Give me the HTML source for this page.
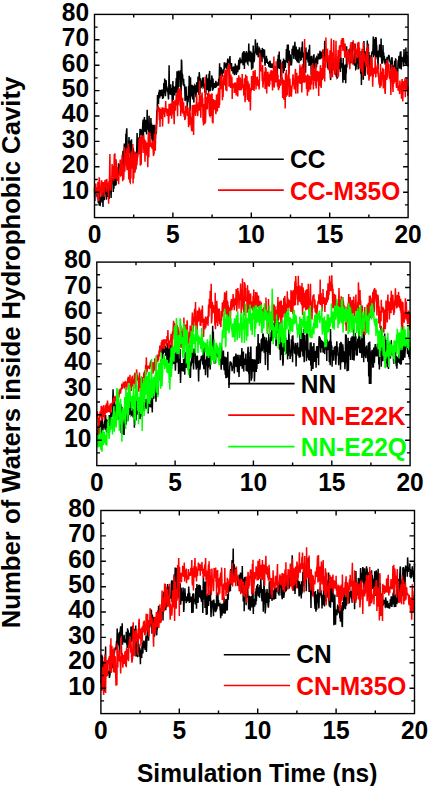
<!DOCTYPE html><html><head><meta charset="utf-8"><style>html,body{margin:0;padding:0;background:#fff;width:429px;height:786px;overflow:hidden}svg{display:block}text{font-family:"Liberation Sans",sans-serif;font-weight:bold}</style></head><body>
<svg width="429" height="786" viewBox="0 0 429 786">
<g fill="none" stroke-width="1.5" stroke-linejoin="miter">
<polyline stroke="#000" points="94.5,189.1 94.8,201.1 95.1,190.5 95.4,190.0 95.8,191.1 96.1,190.1 96.4,192.8 96.7,190.6 97.0,195.5 97.3,195.1 97.6,195.8 97.9,191.5 98.3,203.2 98.6,198.3 98.9,195.8 99.2,205.5 99.5,190.8 99.8,196.7 100.1,206.1 100.5,198.4 100.8,201.6 101.1,202.4 101.4,196.8 101.7,199.4 102.0,190.9 102.3,200.3 102.7,197.9 103.0,207.0 103.3,193.6 103.6,195.1 103.9,188.5 104.2,200.3 104.5,195.5 104.8,187.1 105.2,190.6 105.5,194.0 105.8,187.9 106.1,183.5 106.4,199.7 106.7,194.3 107.0,191.3 107.4,197.1 107.7,187.5 108.0,191.5 108.3,188.8 108.6,188.0 108.9,191.3 109.2,198.9 109.6,187.6 109.9,185.4 110.2,181.9 110.5,182.0 110.8,182.7 111.1,197.9 111.4,183.9 111.7,181.7 112.1,178.1 112.4,182.8 112.7,180.1 113.0,178.8 113.3,191.9 113.6,178.8 113.9,188.6 114.3,178.7 114.6,185.4 114.9,178.8 115.2,180.0 115.5,185.6 115.8,184.8 116.1,184.3 116.5,169.4 116.8,176.3 117.1,176.6 117.4,171.6 117.7,180.8 118.0,173.3 118.3,173.1 118.6,163.3 119.0,167.4 119.3,167.6 119.6,168.0 119.9,166.2 120.2,164.3 120.5,165.6 120.8,166.4 121.2,165.2 121.5,164.7 121.8,161.9 122.1,169.1 122.4,159.3 122.7,162.4 123.0,150.8 123.4,164.6 123.7,157.5 124.0,155.4 124.3,143.4 124.6,165.9 124.9,164.8 125.2,148.5 125.5,154.0 125.9,133.8 126.2,142.0 126.5,131.2 126.8,128.3 127.1,146.6 127.4,149.1 127.7,151.8 128.1,153.1 128.4,148.1 128.7,145.2 129.0,137.1 129.3,147.3 129.6,153.1 129.9,140.5 130.3,152.3 130.6,144.6 130.9,161.8 131.2,146.4 131.5,139.2 131.8,163.6 132.1,151.4 132.4,161.9 132.8,155.6 133.1,147.8 133.4,150.5 133.7,154.1 134.0,163.2 134.3,157.9 134.6,154.8 135.0,157.5 135.3,152.4 135.6,169.7 135.9,165.4 136.2,155.3 136.5,159.3 136.8,147.5 137.1,133.0 137.5,157.3 137.8,147.3 138.1,141.0 138.4,146.7 138.7,138.8 139.0,137.5 139.3,147.3 139.7,138.9 140.0,128.9 140.3,129.8 140.6,131.2 140.9,129.2 141.2,135.0 141.5,133.2 141.9,136.1 142.2,132.6 142.5,130.0 142.8,123.2 143.1,119.5 143.4,137.0 143.7,127.8 144.0,126.6 144.4,117.1 144.7,129.1 145.0,129.5 145.3,131.9 145.6,126.7 145.9,119.7 146.2,125.6 146.6,134.4 146.9,126.3 147.2,109.7 147.5,124.4 147.8,122.3 148.1,129.6 148.4,122.3 148.8,131.9 149.1,115.7 149.4,138.6 149.7,124.8 150.0,130.5 150.3,135.8 150.6,132.6 150.9,118.1 151.3,130.8 151.6,123.4 151.9,139.4 152.2,127.5 152.5,148.4 152.8,125.0 153.1,141.2 153.5,128.1 153.8,128.2 154.1,124.8 154.4,127.9 154.7,135.1 155.0,126.8 155.3,138.6 155.7,128.9 156.0,130.4 156.3,133.7 156.6,117.7 156.9,110.2 157.2,111.9 157.5,94.9 157.8,96.8 158.2,95.0 158.5,104.3 158.8,92.3 159.1,96.9 159.4,89.8 159.7,98.2 160.0,93.5 160.4,93.4 160.7,90.0 161.0,94.9 161.3,96.1 161.6,89.6 161.9,94.8 162.2,89.5 162.6,98.9 162.9,91.1 163.2,98.2 163.5,95.4 163.8,83.0 164.1,87.4 164.4,90.6 164.7,78.4 165.1,92.8 165.4,96.3 165.7,92.2 166.0,80.1 166.3,83.0 166.6,90.5 166.9,86.7 167.3,89.3 167.6,92.2 167.9,90.0 168.2,95.9 168.5,99.5 168.8,87.2 169.1,65.2 169.5,94.5 169.8,85.8 170.1,88.7 170.4,91.3 170.7,84.3 171.0,95.1 171.3,90.1 171.6,89.6 172.0,92.8 172.3,103.1 172.6,90.9 172.9,80.9 173.2,100.0 173.5,86.1 173.8,88.1 174.2,89.3 174.5,92.7 174.8,95.4 175.1,89.4 175.4,86.7 175.7,92.8 176.0,83.8 176.3,78.0 176.7,89.6 177.0,71.2 177.3,95.4 177.6,86.9 177.9,79.6 178.2,90.0 178.5,70.6 178.9,75.3 179.2,74.7 179.5,71.6 179.8,72.3 180.1,87.0 180.4,70.3 180.7,82.5 181.1,96.4 181.4,59.6 181.7,61.4 182.0,75.9 182.3,74.0 182.6,75.2 182.9,81.7 183.2,85.2 183.6,78.8 183.9,85.6 184.2,85.6 184.5,85.4 184.8,90.3 185.1,101.1 185.4,93.0 185.8,88.5 186.1,86.6 186.4,99.6 186.7,97.6 187.0,98.7 187.3,108.6 187.6,95.8 188.0,102.3 188.3,98.8 188.6,86.0 188.9,98.1 189.2,75.7 189.5,89.1 189.8,92.1 190.1,110.6 190.5,77.3 190.8,92.9 191.1,92.5 191.4,96.5 191.7,89.8 192.0,84.8 192.3,96.5 192.7,99.5 193.0,97.1 193.3,85.4 193.6,95.2 193.9,102.6 194.2,86.3 194.5,93.2 194.9,85.6 195.2,86.1 195.5,87.3 195.8,94.9 196.1,97.3 196.4,88.2 196.7,82.3 197.0,90.7 197.4,88.1 197.7,92.5 198.0,76.6 198.3,84.5 198.6,81.8 198.9,95.1 199.2,72.2 199.6,76.1 199.9,94.2 200.2,84.6 200.5,78.2 200.8,84.8 201.1,86.4 201.4,86.6 201.8,87.2 202.1,80.5 202.4,85.6 202.7,77.5 203.0,86.4 203.3,77.4 203.6,82.6 203.9,87.1 204.3,88.6 204.6,83.6 204.9,93.0 205.2,84.2 205.5,84.8 205.8,94.9 206.1,88.2 206.5,74.4 206.8,86.2 207.1,89.9 207.4,83.6 207.7,78.3 208.0,86.5 208.3,89.4 208.7,91.8 209.0,73.7 209.3,79.5 209.6,70.9 209.9,83.0 210.2,91.2 210.5,81.7 210.8,81.2 211.2,85.3 211.5,87.1 211.8,75.4 212.1,78.3 212.4,90.6 212.7,89.9 213.0,78.5 213.4,89.2 213.7,83.3 214.0,83.5 214.3,86.5 214.6,83.0 214.9,87.6 215.2,83.3 215.5,88.0 215.9,80.7 216.2,86.9 216.5,84.4 216.8,85.2 217.1,83.9 217.4,83.1 217.7,83.3 218.1,83.0 218.4,85.8 218.7,78.7 219.0,83.0 219.3,76.3 219.6,63.2 219.9,85.4 220.3,66.9 220.6,79.5 220.9,85.4 221.2,67.5 221.5,70.7 221.8,68.7 222.1,76.6 222.4,74.2 222.8,70.3 223.1,73.4 223.4,71.9 223.7,69.4 224.0,70.8 224.3,62.4 224.6,68.8 225.0,66.0 225.3,66.3 225.6,65.0 225.9,64.0 226.2,64.6 226.5,66.0 226.8,69.2 227.2,64.5 227.5,61.2 227.8,58.5 228.1,62.6 228.4,64.9 228.7,59.8 229.0,65.4 229.3,63.8 229.7,58.9 230.0,56.0 230.3,67.1 230.6,63.6 230.9,69.0 231.2,66.9 231.5,63.0 231.9,71.2 232.2,67.7 232.5,67.9 232.8,67.7 233.1,73.7 233.4,68.9 233.7,71.2 234.1,66.3 234.4,75.1 234.7,69.8 235.0,72.4 235.3,63.6 235.6,71.7 235.9,69.3 236.2,74.7 236.6,73.1 236.9,65.5 237.2,69.1 237.5,68.1 237.8,72.1 238.1,67.4 238.4,66.0 238.8,59.9 239.1,69.5 239.4,68.8 239.7,61.8 240.0,57.5 240.3,63.2 240.6,62.0 241.0,59.5 241.3,61.1 241.6,61.5 241.9,63.0 242.2,57.8 242.5,53.7 242.8,52.7 243.1,65.2 243.5,51.4 243.8,52.1 244.1,51.2 244.4,68.9 244.7,54.6 245.0,52.8 245.3,56.6 245.7,62.5 246.0,59.7 246.3,51.3 246.6,52.5 246.9,57.1 247.2,58.7 247.5,63.6 247.9,64.2 248.2,52.6 248.5,53.7 248.8,43.6 249.1,61.1 249.4,52.2 249.7,50.9 250.0,58.1 250.4,62.1 250.7,51.4 251.0,58.4 251.3,58.3 251.6,69.8 251.9,58.3 252.2,54.8 252.6,55.6 252.9,68.4 253.2,45.6 253.5,55.9 253.8,62.4 254.1,61.1 254.4,60.2 254.7,53.0 255.1,50.9 255.4,39.3 255.7,52.0 256.0,53.2 256.3,51.7 256.6,48.9 256.9,55.2 257.3,42.7 257.6,50.4 257.9,45.9 258.2,57.3 258.5,54.7 258.8,53.8 259.1,51.0 259.5,48.6 259.8,49.2 260.1,59.6 260.4,57.8 260.7,50.0 261.0,56.4 261.3,53.0 261.6,60.9 262.0,61.2 262.3,47.9 262.6,51.8 262.9,56.9 263.2,49.0 263.5,55.1 263.8,54.4 264.2,59.0 264.5,49.4 264.8,62.6 265.1,65.6 265.4,58.7 265.7,60.6 266.0,62.4 266.4,55.9 266.7,63.0 267.0,58.5 267.3,61.7 267.6,62.7 267.9,63.7 268.2,62.0 268.5,63.4 268.9,66.2 269.2,66.4 269.5,62.8 269.8,61.6 270.1,60.9 270.4,67.8 270.7,65.4 271.1,67.9 271.4,64.6 271.7,66.9 272.0,64.0 272.3,64.1 272.6,67.4 272.9,67.3 273.3,67.2 273.6,66.7 273.9,69.1 274.2,66.5 274.5,76.7 274.8,67.6 275.1,70.3 275.4,66.2 275.8,71.7 276.1,66.2 276.4,76.3 276.7,77.2 277.0,72.1 277.3,78.3 277.6,59.0 278.0,63.4 278.3,54.7 278.6,58.8 278.9,68.0 279.2,51.5 279.5,69.0 279.8,59.7 280.2,66.4 280.5,59.4 280.8,76.1 281.1,79.5 281.4,71.8 281.7,64.3 282.0,68.4 282.3,64.8 282.7,62.1 283.0,61.4 283.3,73.2 283.6,58.6 283.9,67.4 284.2,71.1 284.5,60.1 284.9,67.1 285.2,68.0 285.5,64.3 285.8,60.8 286.1,62.5 286.4,49.1 286.7,56.3 287.1,50.8 287.4,44.5 287.7,62.9 288.0,56.9 288.3,44.5 288.6,66.4 288.9,73.8 289.2,50.5 289.6,65.2 289.9,64.7 290.2,54.3 290.5,60.1 290.8,56.7 291.1,59.6 291.4,65.5 291.8,60.9 292.1,48.8 292.4,54.8 292.7,52.2 293.0,47.5 293.3,45.6 293.6,54.2 293.9,59.0 294.3,50.1 294.6,47.6 294.9,41.7 295.2,52.1 295.5,52.5 295.8,59.7 296.1,46.5 296.5,53.7 296.8,60.9 297.1,50.1 297.4,62.6 297.7,49.6 298.0,54.8 298.3,56.7 298.7,50.0 299.0,63.3 299.3,47.2 299.6,50.2 299.9,56.4 300.2,52.1 300.5,55.5 300.8,59.8 301.2,59.5 301.5,47.3 301.8,49.1 302.1,50.8 302.4,41.5 302.7,56.5 303.0,57.7 303.4,54.6 303.7,70.2 304.0,52.5 304.3,59.0 304.6,52.4 304.9,50.4 305.2,65.6 305.6,72.7 305.9,47.4 306.2,59.5 306.5,58.7 306.8,58.6 307.1,52.4 307.4,54.2 307.7,54.9 308.1,62.5 308.4,54.5 308.7,49.6 309.0,66.0 309.3,58.8 309.6,44.7 309.9,63.5 310.3,56.3 310.6,65.5 310.9,56.2 311.2,75.5 311.5,61.8 311.8,55.7 312.1,66.4 312.5,71.0 312.8,62.0 313.1,62.5 313.4,59.7 313.7,55.8 314.0,54.3 314.3,72.1 314.6,64.4 315.0,64.2 315.3,60.2 315.6,61.7 315.9,57.6 316.2,66.2 316.5,67.5 316.8,57.4 317.2,58.0 317.5,64.1 317.8,59.2 318.1,55.5 318.4,56.0 318.7,53.5 319.0,56.9 319.4,59.4 319.7,55.1 320.0,50.8 320.3,53.2 320.6,59.3 320.9,55.7 321.2,51.7 321.5,53.9 321.9,58.1 322.2,54.5 322.5,52.8 322.8,50.3 323.1,56.7 323.4,49.7 323.7,54.0 324.1,50.8 324.4,61.3 324.7,40.8 325.0,48.3 325.3,45.9 325.6,53.4 325.9,53.7 326.3,60.5 326.6,49.2 326.9,53.6 327.2,61.2 327.5,67.3 327.8,68.1 328.1,63.0 328.4,69.7 328.8,62.2 329.1,62.9 329.4,55.4 329.7,69.4 330.0,73.6 330.3,57.1 330.6,80.1 331.0,72.1 331.3,73.0 331.6,65.0 331.9,54.1 332.2,59.6 332.5,70.8 332.8,56.0 333.1,61.6 333.5,65.6 333.8,58.6 334.1,64.9 334.4,70.5 334.7,60.3 335.0,69.9 335.3,73.6 335.7,72.6 336.0,74.8 336.3,75.8 336.6,77.3 336.9,61.7 337.2,77.9 337.5,77.6 337.9,73.7 338.2,56.2 338.5,62.0 338.8,67.1 339.1,68.2 339.4,67.8 339.7,61.7 340.0,58.8 340.4,72.1 340.7,57.5 341.0,58.2 341.3,65.7 341.6,67.2 341.9,63.1 342.2,67.8 342.6,68.3 342.9,82.7 343.2,57.9 343.5,72.9 343.8,77.9 344.1,79.9 344.4,67.3 344.8,66.7 345.1,64.5 345.4,74.1 345.7,83.3 346.0,70.3 346.3,73.6 346.6,46.3 346.9,67.5 347.3,56.5 347.6,55.5 347.9,60.3 348.2,59.3 348.5,54.8 348.8,50.6 349.1,51.3 349.5,64.3 349.8,51.2 350.1,48.2 350.4,58.7 350.7,55.5 351.0,63.4 351.3,49.3 351.7,60.4 352.0,50.8 352.3,42.0 352.6,52.8 352.9,55.2 353.2,64.3 353.5,61.7 353.8,64.0 354.2,59.7 354.5,65.8 354.8,62.5 355.1,44.0 355.4,49.6 355.7,69.1 356.0,68.8 356.4,62.5 356.7,56.7 357.0,63.0 357.3,60.6 357.6,58.2 357.9,62.1 358.2,69.4 358.6,49.3 358.9,56.8 359.2,59.5 359.5,64.9 359.8,57.8 360.1,57.7 360.4,56.3 360.7,73.8 361.1,51.1 361.4,85.1 361.7,66.1 362.0,54.9 362.3,68.7 362.6,73.9 362.9,58.2 363.3,79.8 363.6,66.9 363.9,40.9 364.2,53.9 364.5,51.0 364.8,71.9 365.1,76.0 365.5,55.1 365.8,61.8 366.1,51.2 366.4,54.9 366.7,64.5 367.0,66.6 367.3,40.6 367.6,73.2 368.0,56.2 368.3,43.8 368.6,67.3 368.9,52.1 369.2,62.7 369.5,58.5 369.8,54.9 370.2,74.6 370.5,73.3 370.8,69.8 371.1,65.4 371.4,62.6 371.7,53.6 372.0,52.1 372.3,51.7 372.7,54.2 373.0,48.3 373.3,36.5 373.6,57.2 373.9,44.1 374.2,44.0 374.5,39.0 374.9,42.8 375.2,55.6 375.5,37.0 375.8,59.3 376.1,37.3 376.4,44.8 376.7,46.1 377.1,57.0 377.4,51.8 377.7,52.4 378.0,69.6 378.3,55.3 378.6,51.4 378.9,50.8 379.2,53.3 379.6,44.4 379.9,57.3 380.2,53.5 380.5,56.3 380.8,56.0 381.1,38.5 381.4,54.4 381.8,63.6 382.1,50.5 382.4,63.7 382.7,61.2 383.0,45.0 383.3,58.8 383.6,52.2 384.0,60.4 384.3,55.9 384.6,61.8 384.9,61.7 385.2,64.7 385.5,58.8 385.8,63.2 386.1,61.6 386.5,60.3 386.8,60.4 387.1,56.7 387.4,66.3 387.7,63.6 388.0,58.1 388.3,59.1 388.7,54.9 389.0,57.6 389.3,57.1 389.6,58.5 389.9,61.2 390.2,61.0 390.5,63.2 390.9,67.8 391.2,71.6 391.5,71.6 391.8,57.2 392.1,58.2 392.4,65.3 392.7,76.0 393.0,71.1 393.4,65.3 393.7,75.8 394.0,72.2 394.3,73.7 394.6,60.7 394.9,66.2 395.2,73.5 395.6,59.2 395.9,59.4 396.2,74.3 396.5,67.9 396.8,70.2 397.1,72.1 397.4,77.9 397.8,70.1 398.1,60.3 398.4,62.3 398.7,60.4 399.0,55.7 399.3,63.1 399.6,68.6 399.9,59.1 400.3,51.7 400.6,66.6 400.9,51.3 401.2,69.6 401.5,60.5 401.8,59.7 402.1,56.7 402.5,61.1 402.8,61.2 403.1,58.9 403.4,66.4 403.7,61.5 404.0,49.1 404.3,57.1 404.7,61.2 405.0,62.7 405.3,61.1 405.6,63.8 405.9,47.5 406.2,64.9 406.5,54.9 406.8,54.5 407.2,62.5 407.5,55.1 407.8,60.0 408.1,66.8"/>
<polyline stroke="#f00" points="94.5,186.6 94.8,192.4 95.1,190.3 95.4,192.7 95.8,183.5 96.1,193.5 96.4,191.9 96.7,190.4 97.0,187.4 97.3,192.2 97.6,199.1 97.9,181.7 98.3,197.8 98.6,200.2 98.9,200.1 99.2,177.2 99.5,180.3 99.8,184.1 100.1,189.7 100.5,191.7 100.8,186.7 101.1,195.7 101.4,189.2 101.7,180.2 102.0,196.4 102.3,182.6 102.7,191.5 103.0,191.5 103.3,182.1 103.6,192.5 103.9,191.2 104.2,196.7 104.5,188.5 104.8,182.1 105.2,179.9 105.5,184.6 105.8,185.6 106.1,185.6 106.4,192.1 106.7,178.9 107.0,181.3 107.4,189.8 107.7,184.8 108.0,183.1 108.3,188.4 108.6,203.7 108.9,180.9 109.2,185.3 109.6,173.4 109.9,154.1 110.2,182.2 110.5,188.6 110.8,190.8 111.1,186.4 111.4,179.0 111.7,183.5 112.1,164.1 112.4,177.1 112.7,166.4 113.0,166.5 113.3,173.3 113.6,180.7 113.9,175.7 114.3,154.0 114.6,156.6 114.9,153.4 115.2,179.0 115.5,177.2 115.8,168.5 116.1,159.3 116.5,166.3 116.8,175.4 117.1,180.6 117.4,167.0 117.7,179.2 118.0,177.4 118.3,173.9 118.6,184.2 119.0,175.5 119.3,175.0 119.6,169.8 119.9,172.1 120.2,159.6 120.5,169.4 120.8,175.5 121.2,175.0 121.5,161.2 121.8,166.7 122.1,154.7 122.4,173.3 122.7,181.2 123.0,165.1 123.4,164.8 123.7,179.6 124.0,171.7 124.3,146.9 124.6,164.8 124.9,171.6 125.2,154.8 125.5,160.2 125.9,153.3 126.2,158.4 126.5,148.5 126.8,167.0 127.1,170.2 127.4,159.3 127.7,167.5 128.1,144.1 128.4,144.2 128.7,179.6 129.0,146.5 129.3,176.6 129.6,164.1 129.9,182.0 130.3,182.6 130.6,157.4 130.9,178.5 131.2,151.4 131.5,168.8 131.8,155.9 132.1,161.2 132.4,157.5 132.8,143.9 133.1,183.4 133.4,161.0 133.7,178.7 134.0,168.9 134.3,164.5 134.6,151.3 135.0,172.6 135.3,168.8 135.6,166.0 135.9,169.0 136.2,153.3 136.5,159.9 136.8,165.4 137.1,161.4 137.5,157.1 137.8,154.1 138.1,152.5 138.4,152.2 138.7,154.1 139.0,140.4 139.3,137.9 139.7,153.6 140.0,149.2 140.3,165.6 140.6,162.1 140.9,137.0 141.2,164.7 141.5,135.1 141.9,136.9 142.2,137.3 142.5,141.5 142.8,136.0 143.1,153.1 143.4,140.2 143.7,135.2 144.0,139.9 144.4,139.0 144.7,147.6 145.0,161.8 145.3,146.8 145.6,140.4 145.9,153.7 146.2,146.0 146.6,147.2 146.9,155.6 147.2,142.6 147.5,152.0 147.8,167.2 148.1,147.2 148.4,132.2 148.8,157.3 149.1,145.6 149.4,142.0 149.7,140.6 150.0,132.5 150.3,146.9 150.6,144.2 150.9,144.1 151.3,146.8 151.6,143.1 151.9,147.6 152.2,147.9 152.5,140.6 152.8,144.7 153.1,149.4 153.5,156.1 153.8,142.2 154.1,154.5 154.4,133.8 154.7,134.6 155.0,133.4 155.3,150.8 155.7,132.1 156.0,124.5 156.3,132.5 156.6,124.9 156.9,124.3 157.2,110.8 157.5,110.7 157.8,109.4 158.2,105.5 158.5,111.5 158.8,110.1 159.1,111.8 159.4,120.2 159.7,107.5 160.0,127.0 160.4,110.8 160.7,108.9 161.0,119.0 161.3,113.4 161.6,110.2 161.9,108.8 162.2,107.3 162.6,126.4 162.9,113.3 163.2,107.7 163.5,108.4 163.8,111.1 164.1,114.1 164.4,109.2 164.7,117.3 165.1,107.7 165.4,112.4 165.7,101.0 166.0,111.5 166.3,108.2 166.6,109.0 166.9,113.0 167.3,115.9 167.6,114.3 167.9,112.9 168.2,108.9 168.5,123.7 168.8,122.4 169.1,103.8 169.5,112.7 169.8,105.6 170.1,115.7 170.4,108.4 170.7,103.6 171.0,107.7 171.3,103.2 171.6,118.7 172.0,113.6 172.3,102.6 172.6,114.3 172.9,101.6 173.2,101.5 173.5,111.8 173.8,113.4 174.2,124.2 174.5,107.0 174.8,100.3 175.1,101.7 175.4,110.8 175.7,102.4 176.0,100.6 176.3,94.7 176.7,105.4 177.0,93.5 177.3,101.3 177.6,116.2 177.9,90.3 178.2,105.1 178.5,88.4 178.9,88.7 179.2,100.5 179.5,89.6 179.8,99.5 180.1,106.1 180.4,88.4 180.7,116.0 181.1,91.1 181.4,101.2 181.7,112.3 182.0,111.7 182.3,106.0 182.6,97.8 182.9,113.7 183.2,109.2 183.6,102.3 183.9,113.1 184.2,116.9 184.5,112.4 184.8,120.1 185.1,111.1 185.4,119.3 185.8,105.8 186.1,107.5 186.4,107.6 186.7,113.6 187.0,105.8 187.3,116.0 187.6,109.2 188.0,107.5 188.3,117.6 188.6,127.3 188.9,117.3 189.2,120.8 189.5,125.2 189.8,108.1 190.1,112.9 190.5,121.7 190.8,116.8 191.1,124.6 191.4,127.5 191.7,131.3 192.0,121.8 192.3,105.2 192.7,107.9 193.0,131.5 193.3,105.8 193.6,135.0 193.9,105.9 194.2,106.1 194.5,114.0 194.9,104.6 195.2,107.0 195.5,116.0 195.8,112.5 196.1,108.6 196.4,102.5 196.7,94.6 197.0,112.2 197.4,105.4 197.7,116.3 198.0,110.4 198.3,105.7 198.6,102.4 198.9,109.3 199.2,110.6 199.6,80.8 199.9,107.0 200.2,96.3 200.5,101.5 200.8,117.7 201.1,103.6 201.4,94.5 201.8,101.6 202.1,92.4 202.4,107.2 202.7,97.7 203.0,120.5 203.3,122.0 203.6,125.4 203.9,108.6 204.3,104.0 204.6,106.3 204.9,124.0 205.2,76.8 205.5,122.5 205.8,112.7 206.1,99.0 206.5,96.7 206.8,103.6 207.1,102.0 207.4,109.4 207.7,93.1 208.0,95.4 208.3,102.6 208.7,92.0 209.0,95.8 209.3,112.1 209.6,115.3 209.9,115.8 210.2,94.2 210.5,105.5 210.8,116.1 211.2,95.6 211.5,102.7 211.8,93.5 212.1,94.7 212.4,122.6 212.7,99.6 213.0,123.6 213.4,99.0 213.7,109.9 214.0,108.3 214.3,100.1 214.6,107.0 214.9,100.2 215.2,105.0 215.5,109.8 215.9,114.1 216.2,107.7 216.5,94.5 216.8,107.6 217.1,98.6 217.4,111.6 217.7,93.6 218.1,104.4 218.4,91.0 218.7,87.8 219.0,108.1 219.3,91.8 219.6,104.9 219.9,91.3 220.3,75.5 220.6,85.4 220.9,89.3 221.2,83.1 221.5,76.5 221.8,74.2 222.1,83.4 222.4,100.3 222.8,87.6 223.1,97.0 223.4,82.9 223.7,80.3 224.0,75.1 224.3,77.2 224.6,85.4 225.0,69.8 225.3,84.8 225.6,79.9 225.9,90.4 226.2,80.9 226.5,69.7 226.8,91.2 227.2,69.4 227.5,69.5 227.8,70.7 228.1,68.3 228.4,70.4 228.7,62.7 229.0,86.8 229.3,72.6 229.7,64.5 230.0,86.4 230.3,75.8 230.6,87.9 230.9,74.5 231.2,86.6 231.5,80.0 231.9,76.7 232.2,99.1 232.5,83.3 232.8,87.8 233.1,85.3 233.4,84.0 233.7,87.5 234.1,83.2 234.4,92.9 234.7,82.5 235.0,92.7 235.3,86.8 235.6,83.3 235.9,83.5 236.2,95.4 236.6,88.4 236.9,93.9 237.2,77.9 237.5,84.0 237.8,96.4 238.1,77.7 238.4,83.9 238.8,75.3 239.1,82.7 239.4,90.3 239.7,87.7 240.0,88.2 240.3,77.4 240.6,89.4 241.0,79.2 241.3,90.3 241.6,84.0 241.9,88.5 242.2,74.0 242.5,86.1 242.8,85.4 243.1,84.3 243.5,88.1 243.8,93.9 244.1,93.3 244.4,78.2 244.7,87.9 245.0,102.3 245.3,99.1 245.7,74.6 246.0,87.3 246.3,87.3 246.6,89.4 246.9,76.1 247.2,95.6 247.5,100.0 247.9,80.9 248.2,86.1 248.5,88.1 248.8,101.8 249.1,83.6 249.4,90.5 249.7,97.7 250.0,87.8 250.4,110.4 250.7,93.8 251.0,90.7 251.3,90.4 251.6,76.1 251.9,85.6 252.2,83.9 252.6,89.9 252.9,82.2 253.2,70.7 253.5,82.5 253.8,78.0 254.1,91.1 254.4,81.4 254.7,72.8 255.1,70.0 255.4,82.1 255.7,78.4 256.0,89.5 256.3,78.1 256.6,78.3 256.9,79.9 257.3,76.5 257.6,85.8 257.9,82.3 258.2,81.7 258.5,86.7 258.8,82.7 259.1,89.5 259.5,79.0 259.8,52.7 260.1,67.1 260.4,69.7 260.7,56.5 261.0,71.4 261.3,68.2 261.6,68.1 262.0,70.5 262.3,81.3 262.6,65.0 262.9,87.6 263.2,83.9 263.5,80.2 263.8,81.4 264.2,79.4 264.5,73.0 264.8,73.4 265.1,89.1 265.4,66.9 265.7,77.9 266.0,68.3 266.4,79.1 266.7,93.4 267.0,72.5 267.3,72.5 267.6,74.8 267.9,71.8 268.2,86.1 268.5,79.0 268.9,85.9 269.2,86.0 269.5,74.0 269.8,84.9 270.1,74.9 270.4,71.7 270.7,80.7 271.1,70.0 271.4,78.5 271.7,70.8 272.0,77.3 272.3,85.0 272.6,90.4 272.9,70.6 273.3,80.3 273.6,69.9 273.9,56.5 274.2,87.6 274.5,83.0 274.8,66.8 275.1,72.8 275.4,70.6 275.8,82.6 276.1,61.2 276.4,72.1 276.7,81.8 277.0,69.3 277.3,81.7 277.6,86.7 278.0,74.8 278.3,87.9 278.6,90.2 278.9,81.9 279.2,88.1 279.5,80.7 279.8,79.3 280.2,85.9 280.5,81.4 280.8,80.9 281.1,81.1 281.4,73.6 281.7,62.6 282.0,85.0 282.3,77.6 282.7,98.0 283.0,88.2 283.3,79.4 283.6,90.2 283.9,99.8 284.2,80.3 284.5,93.1 284.9,90.5 285.2,108.4 285.5,72.7 285.8,78.4 286.1,97.0 286.4,69.7 286.7,90.9 287.1,84.1 287.4,95.6 287.7,78.7 288.0,77.2 288.3,74.5 288.6,86.4 288.9,61.1 289.2,96.9 289.6,87.2 289.9,78.5 290.2,87.3 290.5,96.1 290.8,85.8 291.1,94.6 291.4,96.6 291.8,89.0 292.1,85.8 292.4,85.5 292.7,79.3 293.0,74.2 293.3,79.0 293.6,82.1 293.9,82.5 294.3,89.4 294.6,81.5 294.9,80.1 295.2,72.3 295.5,68.9 295.8,93.7 296.1,79.8 296.5,79.7 296.8,72.8 297.1,85.4 297.4,76.5 297.7,93.5 298.0,83.9 298.3,81.1 298.7,75.5 299.0,83.2 299.3,76.4 299.6,75.7 299.9,64.5 300.2,83.9 300.5,81.2 300.8,72.0 301.2,78.7 301.5,66.6 301.8,92.6 302.1,81.4 302.4,64.2 302.7,82.6 303.0,81.8 303.4,69.2 303.7,76.5 304.0,68.4 304.3,82.7 304.6,39.0 304.9,75.4 305.2,80.9 305.6,80.3 305.9,77.2 306.2,75.4 306.5,88.9 306.8,86.7 307.1,82.6 307.4,95.8 307.7,74.2 308.1,80.5 308.4,87.4 308.7,91.6 309.0,86.7 309.3,75.6 309.6,89.2 309.9,83.5 310.3,78.9 310.6,89.7 310.9,76.1 311.2,81.3 311.5,84.7 311.8,64.7 312.1,80.1 312.5,71.4 312.8,63.2 313.1,73.4 313.4,89.6 313.7,72.9 314.0,71.9 314.3,75.4 314.6,67.9 315.0,80.9 315.3,79.3 315.6,85.8 315.9,63.0 316.2,88.4 316.5,81.3 316.8,80.1 317.2,81.0 317.5,70.9 317.8,74.6 318.1,81.5 318.4,73.0 318.7,96.1 319.0,71.4 319.4,74.7 319.7,71.7 320.0,86.1 320.3,66.4 320.6,65.3 320.9,86.3 321.2,87.9 321.5,78.5 321.9,67.9 322.2,79.9 322.5,77.2 322.8,67.9 323.1,49.2 323.4,73.0 323.7,63.3 324.1,79.0 324.4,63.0 324.7,81.6 325.0,56.0 325.3,67.6 325.6,61.0 325.9,37.6 326.3,60.2 326.6,62.3 326.9,54.4 327.2,50.4 327.5,50.0 327.8,60.0 328.1,59.2 328.4,65.5 328.8,70.3 329.1,62.2 329.4,55.3 329.7,59.9 330.0,50.2 330.3,78.0 330.6,77.1 331.0,51.8 331.3,38.4 331.6,58.0 331.9,63.9 332.2,52.2 332.5,77.3 332.8,60.6 333.1,59.6 333.5,59.1 333.8,39.9 334.1,54.4 334.4,68.9 334.7,74.8 335.0,68.1 335.3,73.4 335.7,61.4 336.0,40.7 336.3,64.1 336.6,69.5 336.9,62.3 337.2,61.2 337.5,77.4 337.9,61.8 338.2,50.0 338.5,76.4 338.8,51.4 339.1,62.6 339.4,46.9 339.7,45.4 340.0,47.5 340.4,45.2 340.7,58.1 341.0,48.6 341.3,39.9 341.6,47.0 341.9,44.3 342.2,38.1 342.6,43.8 342.9,50.9 343.2,38.2 343.5,40.2 343.8,43.7 344.1,49.7 344.4,49.9 344.8,57.7 345.1,43.5 345.4,51.1 345.7,51.6 346.0,57.8 346.3,50.9 346.6,54.0 346.9,54.4 347.3,63.5 347.6,64.6 347.9,60.6 348.2,49.0 348.5,54.0 348.8,57.3 349.1,62.2 349.5,57.0 349.8,69.3 350.1,60.4 350.4,44.4 350.7,57.4 351.0,41.9 351.3,57.3 351.7,59.9 352.0,62.3 352.3,53.0 352.6,64.6 352.9,51.4 353.2,40.3 353.5,50.9 353.8,43.4 354.2,50.6 354.5,47.0 354.8,43.3 355.1,55.1 355.4,63.2 355.7,48.7 356.0,50.3 356.4,51.7 356.7,52.4 357.0,52.6 357.3,58.3 357.6,42.4 357.9,53.6 358.2,48.6 358.6,57.5 358.9,41.8 359.2,54.3 359.5,47.8 359.8,67.6 360.1,68.4 360.4,62.4 360.7,55.2 361.1,58.4 361.4,71.8 361.7,63.3 362.0,48.8 362.3,69.1 362.6,56.7 362.9,76.2 363.3,42.5 363.6,59.8 363.9,55.2 364.2,60.8 364.5,53.3 364.8,62.1 365.1,61.5 365.5,61.2 365.8,63.8 366.1,67.3 366.4,57.3 366.7,47.7 367.0,64.5 367.3,65.4 367.6,74.8 368.0,44.6 368.3,74.3 368.6,64.6 368.9,80.6 369.2,77.8 369.5,75.5 369.8,67.1 370.2,76.4 370.5,59.5 370.8,58.6 371.1,72.8 371.4,75.6 371.7,56.8 372.0,59.4 372.3,69.4 372.7,86.8 373.0,75.1 373.3,75.3 373.6,67.8 373.9,73.3 374.2,69.6 374.5,70.4 374.9,73.8 375.2,57.0 375.5,70.9 375.8,77.4 376.1,70.5 376.4,68.1 376.7,73.4 377.1,67.1 377.4,67.3 377.7,63.9 378.0,66.6 378.3,76.9 378.6,72.8 378.9,81.7 379.2,84.8 379.6,76.8 379.9,87.9 380.2,85.4 380.5,63.7 380.8,75.8 381.1,86.5 381.4,79.3 381.8,71.9 382.1,72.8 382.4,79.5 382.7,67.8 383.0,79.8 383.3,88.4 383.6,69.1 384.0,78.9 384.3,79.2 384.6,74.9 384.9,91.0 385.2,94.0 385.5,82.8 385.8,63.5 386.1,65.8 386.5,67.3 386.8,80.1 387.1,60.1 387.4,77.6 387.7,70.5 388.0,63.6 388.3,65.3 388.7,65.1 389.0,64.3 389.3,75.8 389.6,79.1 389.9,76.1 390.2,71.4 390.5,80.1 390.9,94.9 391.2,69.8 391.5,81.9 391.8,64.4 392.1,71.0 392.4,75.2 392.7,85.0 393.0,91.9 393.4,74.7 393.7,66.8 394.0,83.8 394.3,66.9 394.6,80.1 394.9,81.9 395.2,80.3 395.6,79.8 395.9,68.7 396.2,84.2 396.5,87.9 396.8,83.5 397.1,74.4 397.4,71.2 397.8,77.6 398.1,90.7 398.4,85.6 398.7,88.6 399.0,86.9 399.3,86.7 399.6,94.1 399.9,80.6 400.3,86.5 400.6,89.3 400.9,87.2 401.2,90.1 401.5,98.8 401.8,82.7 402.1,79.0 402.5,94.3 402.8,101.4 403.1,87.8 403.4,83.7 403.7,81.2 404.0,87.2 404.3,89.3 404.7,82.9 405.0,78.2 405.3,97.3 405.6,88.1 405.9,87.3 406.2,79.5 406.5,89.6 406.8,77.9 407.2,90.1 407.5,85.9 407.8,95.9 408.1,86.5"/>
</g>
<rect x="94.5" y="14.4" width="313.6" height="203.2" fill="none" stroke="#000" stroke-width="1.4"/>
<path d="M133.7 217.6v-3.2M133.7 14.4v3.2M172.9 217.6v-5M172.9 14.4v5M212.1 217.6v-3.2M212.1 14.4v3.2M251.3 217.6v-5M251.3 14.4v5M290.5 217.6v-3.2M290.5 14.4v3.2M329.7 217.6v-5M329.7 14.4v5M368.9 217.6v-3.2M368.9 14.4v3.2M94.5 204.9h3.2M408.1 204.9h-3.2M94.5 192.2h5M408.1 192.2h-5M94.5 179.5h3.2M408.1 179.5h-3.2M94.5 166.8h5M408.1 166.8h-5M94.5 154.1h3.2M408.1 154.1h-3.2M94.5 141.4h5M408.1 141.4h-5M94.5 128.7h3.2M408.1 128.7h-3.2M94.5 116.0h5M408.1 116.0h-5M94.5 103.3h3.2M408.1 103.3h-3.2M94.5 90.6h5M408.1 90.6h-5M94.5 77.9h3.2M408.1 77.9h-3.2M94.5 65.2h5M408.1 65.2h-5M94.5 52.5h3.2M408.1 52.5h-3.2M94.5 39.8h5M408.1 39.8h-5M94.5 27.1h3.2M408.1 27.1h-3.2" stroke="#000" stroke-width="1.4" fill="none"/>
<text transform="translate(89.1 198.5) scale(1 1.06)" font-size="24.5" text-anchor="end">10</text>
<text transform="translate(89.1 173.1) scale(1 1.06)" font-size="24.5" text-anchor="end">20</text>
<text transform="translate(89.1 147.7) scale(1 1.06)" font-size="24.5" text-anchor="end">30</text>
<text transform="translate(89.1 122.3) scale(1 1.06)" font-size="24.5" text-anchor="end">40</text>
<text transform="translate(89.1 96.9) scale(1 1.06)" font-size="24.5" text-anchor="end">50</text>
<text transform="translate(89.1 71.5) scale(1 1.06)" font-size="24.5" text-anchor="end">60</text>
<text transform="translate(89.1 46.1) scale(1 1.06)" font-size="24.5" text-anchor="end">70</text>
<text transform="translate(89.1 20.7) scale(1 1.06)" font-size="24.5" text-anchor="end">80</text>
<text transform="translate(94.5 242.8) scale(1 1.06)" font-size="24.5" text-anchor="middle">0</text>
<text transform="translate(172.9 242.8) scale(1 1.06)" font-size="24.5" text-anchor="middle">5</text>
<text transform="translate(251.3 242.8) scale(1 1.06)" font-size="24.5" text-anchor="middle">10</text>
<text transform="translate(329.7 242.8) scale(1 1.06)" font-size="24.5" text-anchor="middle">15</text>
<text transform="translate(408.1 242.8) scale(1 1.06)" font-size="24.5" text-anchor="middle">20</text>
<line x1="218" x2="283.8" y1="159.3" y2="159.3" stroke="#000" stroke-width="1.6"/>
<text transform="translate(290.0 167.8) scale(1 1.06)" font-size="24.5" fill="#000">CC</text>
<line x1="218" x2="283.8" y1="190.1" y2="190.1" stroke="#f00" stroke-width="1.6"/>
<text transform="translate(290.0 199.9) scale(1 1.06)" font-size="24.5" fill="#f00">CC-M35O</text>
<g fill="none" stroke-width="1.5" stroke-linejoin="miter">
<polyline stroke="#000" points="96.8,433.5 97.1,441.6 97.4,442.4 97.7,437.3 98.1,425.2 98.4,431.4 98.7,428.2 99.0,427.3 99.3,424.1 99.6,421.3 99.9,434.4 100.2,421.7 100.6,421.3 100.9,433.2 101.2,432.8 101.5,434.2 101.8,428.4 102.1,417.2 102.4,424.3 102.8,430.7 103.1,427.9 103.4,424.4 103.7,427.4 104.0,426.7 104.3,423.6 104.6,420.3 104.9,427.5 105.3,429.6 105.6,415.0 105.9,424.2 106.2,419.0 106.5,432.3 106.8,428.3 107.1,425.4 107.5,419.7 107.8,430.5 108.1,425.1 108.4,433.1 108.7,431.1 109.0,428.5 109.3,415.1 109.6,421.7 110.0,426.1 110.3,417.4 110.6,421.8 110.9,412.0 111.2,414.9 111.5,412.1 111.8,416.9 112.2,412.0 112.5,413.4 112.8,398.3 113.1,389.3 113.4,408.3 113.7,401.7 114.0,403.5 114.3,398.5 114.7,403.8 115.0,416.1 115.3,404.4 115.6,420.1 115.9,411.4 116.2,416.1 116.5,408.8 116.9,416.0 117.2,416.2 117.5,403.8 117.8,404.6 118.1,419.5 118.4,417.9 118.7,402.5 119.0,413.3 119.4,416.2 119.7,416.4 120.0,419.4 120.3,418.1 120.6,417.3 120.9,404.3 121.2,433.3 121.6,417.8 121.9,406.7 122.2,420.3 122.5,422.2 122.8,434.3 123.1,428.6 123.4,429.6 123.7,424.5 124.1,435.0 124.4,412.0 124.7,416.7 125.0,418.2 125.3,405.5 125.6,421.3 125.9,424.6 126.3,419.6 126.6,415.9 126.9,421.0 127.2,417.9 127.5,411.2 127.8,414.1 128.1,420.8 128.4,411.3 128.8,413.7 129.1,415.1 129.4,409.5 129.7,398.1 130.0,413.4 130.3,414.4 130.6,410.2 130.9,397.3 131.3,415.1 131.6,414.7 131.9,408.3 132.2,409.0 132.5,409.8 132.8,409.8 133.1,417.4 133.5,414.5 133.8,410.3 134.1,409.9 134.4,427.8 134.7,404.9 135.0,405.5 135.3,411.1 135.6,417.0 136.0,420.6 136.3,409.1 136.6,400.6 136.9,407.1 137.2,414.6 137.5,409.3 137.8,402.7 138.2,409.9 138.5,410.2 138.8,409.3 139.1,414.7 139.4,408.3 139.7,399.8 140.0,419.2 140.3,405.0 140.7,413.0 141.0,416.6 141.3,414.2 141.6,398.9 141.9,402.7 142.2,401.1 142.5,411.7 142.9,404.0 143.2,403.1 143.5,408.4 143.8,405.9 144.1,396.9 144.4,410.7 144.7,408.0 145.0,402.6 145.4,405.0 145.7,405.8 146.0,398.7 146.3,405.9 146.6,408.6 146.9,401.8 147.2,400.4 147.6,407.5 147.9,400.6 148.2,413.5 148.5,407.4 148.8,405.4 149.1,406.6 149.4,393.8 149.7,403.3 150.1,398.4 150.4,407.3 150.7,399.2 151.0,407.4 151.3,390.5 151.6,403.6 151.9,400.8 152.3,412.4 152.6,396.2 152.9,392.0 153.2,383.7 153.5,395.3 153.8,398.8 154.1,392.1 154.4,387.4 154.8,394.0 155.1,378.1 155.4,381.3 155.7,395.2 156.0,401.8 156.3,387.9 156.6,385.6 157.0,376.4 157.3,381.3 157.6,386.9 157.9,395.0 158.2,377.4 158.5,372.0 158.8,376.8 159.1,376.9 159.5,370.9 159.8,373.2 160.1,376.3 160.4,381.1 160.7,367.5 161.0,359.5 161.3,368.5 161.7,371.6 162.0,346.0 162.3,351.1 162.6,359.8 162.9,349.0 163.2,354.2 163.5,340.1 163.8,348.6 164.2,346.7 164.5,352.6 164.8,347.3 165.1,345.8 165.4,347.1 165.7,354.8 166.0,354.6 166.4,352.9 166.7,347.5 167.0,363.6 167.3,352.0 167.6,343.0 167.9,362.0 168.2,363.4 168.5,357.9 168.9,348.2 169.2,352.0 169.5,353.8 169.8,369.5 170.1,344.4 170.4,365.3 170.7,354.9 171.1,356.8 171.4,345.4 171.7,357.0 172.0,362.2 172.3,365.4 172.6,359.9 172.9,359.0 173.2,351.6 173.6,353.8 173.9,364.0 174.2,353.2 174.5,356.0 174.8,353.6 175.1,362.2 175.4,370.8 175.8,360.5 176.1,353.1 176.4,347.1 176.7,345.6 177.0,362.8 177.3,359.0 177.6,345.9 177.9,351.2 178.3,360.2 178.6,373.9 178.9,361.7 179.2,359.1 179.5,364.1 179.8,371.6 180.1,348.9 180.5,383.1 180.8,373.1 181.1,369.0 181.4,363.1 181.7,371.0 182.0,368.2 182.3,363.1 182.6,368.5 183.0,369.2 183.3,371.7 183.6,358.9 183.9,364.8 184.2,364.1 184.5,361.5 184.8,374.8 185.2,353.9 185.5,351.9 185.8,361.5 186.1,366.2 186.4,367.8 186.7,351.8 187.0,362.3 187.3,355.1 187.7,350.2 188.0,367.1 188.3,358.0 188.6,368.2 188.9,345.3 189.2,351.7 189.5,360.1 189.9,375.5 190.2,377.8 190.5,376.9 190.8,362.8 191.1,366.1 191.4,360.9 191.7,363.2 192.0,351.2 192.4,355.3 192.7,357.8 193.0,357.7 193.3,363.9 193.6,369.5 193.9,349.8 194.2,348.6 194.5,350.9 194.9,354.1 195.2,350.3 195.5,362.4 195.8,363.9 196.1,366.9 196.4,369.6 196.7,355.9 197.1,365.9 197.4,355.5 197.7,367.9 198.0,360.6 198.3,368.1 198.6,381.6 198.9,366.0 199.2,365.5 199.6,360.2 199.9,369.7 200.2,366.3 200.5,359.8 200.8,359.5 201.1,358.4 201.4,355.8 201.8,360.0 202.1,360.2 202.4,360.0 202.7,364.6 203.0,350.5 203.3,350.3 203.6,363.2 203.9,369.3 204.3,347.3 204.6,364.3 204.9,359.4 205.2,363.8 205.5,375.2 205.8,369.4 206.1,360.0 206.5,365.6 206.8,352.6 207.1,359.6 207.4,347.3 207.7,377.6 208.0,360.0 208.3,367.7 208.6,358.0 209.0,354.7 209.3,366.6 209.6,348.4 209.9,361.3 210.2,369.6 210.5,350.4 210.8,353.9 211.2,354.1 211.5,350.9 211.8,354.1 212.1,354.3 212.4,342.1 212.7,325.7 213.0,356.4 213.3,331.5 213.7,360.5 214.0,345.0 214.3,363.7 214.6,351.7 214.9,352.6 215.2,352.8 215.5,363.5 215.9,350.6 216.2,350.7 216.5,350.0 216.8,347.3 217.1,355.0 217.4,355.5 217.7,350.5 218.0,352.7 218.4,357.7 218.7,350.7 219.0,348.6 219.3,352.2 219.6,358.5 219.9,352.6 220.2,357.0 220.6,356.7 220.9,364.2 221.2,369.7 221.5,346.0 221.8,353.2 222.1,365.0 222.4,361.6 222.7,352.6 223.1,364.0 223.4,350.5 223.7,361.5 224.0,368.5 224.3,370.4 224.6,363.3 224.9,356.5 225.3,374.7 225.6,363.5 225.9,378.3 226.2,357.3 226.5,363.1 226.8,377.9 227.1,366.9 227.4,370.8 227.8,351.7 228.1,370.6 228.4,377.2 228.7,371.3 229.0,388.0 229.3,380.4 229.6,370.3 230.0,363.0 230.3,361.5 230.6,362.6 230.9,365.3 231.2,362.2 231.5,365.4 231.8,366.3 232.1,371.1 232.5,368.2 232.8,367.3 233.1,365.7 233.4,363.0 233.7,356.9 234.0,365.8 234.3,373.4 234.7,360.2 235.0,356.1 235.3,360.5 235.6,366.5 235.9,353.5 236.2,367.1 236.5,359.0 236.8,354.9 237.2,361.8 237.5,372.2 237.8,365.1 238.1,354.8 238.4,363.2 238.7,358.4 239.0,377.0 239.4,364.4 239.7,362.8 240.0,354.8 240.3,362.0 240.6,366.2 240.9,359.8 241.2,360.4 241.5,358.3 241.9,348.0 242.2,368.7 242.5,360.5 242.8,353.5 243.1,365.5 243.4,351.4 243.7,371.6 244.1,360.8 244.4,358.5 244.7,362.3 245.0,365.0 245.3,359.5 245.6,358.8 245.9,353.5 246.2,371.1 246.6,359.3 246.9,365.0 247.2,360.0 247.5,371.7 247.8,351.6 248.1,346.7 248.4,359.9 248.8,371.9 249.1,371.5 249.4,383.0 249.7,366.5 250.0,352.1 250.3,361.7 250.6,347.3 250.9,347.3 251.3,380.8 251.6,359.2 251.9,378.6 252.2,365.2 252.5,358.9 252.8,370.4 253.1,364.7 253.4,371.5 253.8,369.2 254.1,359.2 254.4,381.4 254.7,374.2 255.0,359.6 255.3,362.5 255.6,368.9 256.0,360.0 256.3,372.1 256.6,346.6 256.9,368.9 257.2,352.4 257.5,345.8 257.8,352.8 258.1,334.1 258.5,364.0 258.8,349.9 259.1,355.1 259.4,343.2 259.7,353.1 260.0,355.0 260.3,363.3 260.7,352.7 261.0,351.1 261.3,339.8 261.6,339.4 261.9,340.5 262.2,351.3 262.5,345.6 262.8,333.5 263.2,334.5 263.5,345.4 263.8,347.4 264.1,352.7 264.4,336.7 264.7,349.6 265.0,348.0 265.4,364.9 265.7,339.7 266.0,352.0 266.3,337.5 266.6,342.9 266.9,350.5 267.2,348.5 267.5,351.9 267.9,370.3 268.2,340.5 268.5,353.3 268.8,333.8 269.1,342.6 269.4,351.1 269.7,348.0 270.1,355.0 270.4,343.6 270.7,339.4 271.0,333.7 271.3,332.2 271.6,341.0 271.9,318.1 272.2,339.3 272.6,327.9 272.9,329.3 273.2,337.5 273.5,322.7 273.8,331.4 274.1,325.0 274.4,338.0 274.8,323.7 275.1,314.8 275.4,333.4 275.7,318.8 276.0,346.1 276.3,343.4 276.6,318.0 276.9,327.6 277.3,324.0 277.6,332.7 277.9,328.0 278.2,330.1 278.5,322.9 278.8,322.1 279.1,342.2 279.5,348.2 279.8,347.8 280.1,336.8 280.4,360.2 280.7,344.1 281.0,355.0 281.3,325.2 281.6,333.9 282.0,350.0 282.3,342.6 282.6,356.5 282.9,365.7 283.2,361.6 283.5,344.0 283.8,338.4 284.2,342.8 284.5,350.3 284.8,349.9 285.1,348.2 285.4,348.5 285.7,337.2 286.0,353.8 286.3,343.2 286.7,339.7 287.0,351.2 287.3,341.7 287.6,359.4 287.9,340.0 288.2,356.1 288.5,345.0 288.9,329.4 289.2,342.3 289.5,350.3 289.8,351.6 290.1,358.9 290.4,354.0 290.7,356.4 291.0,352.1 291.4,339.2 291.7,351.8 292.0,342.6 292.3,335.7 292.6,362.3 292.9,335.2 293.2,349.0 293.6,342.4 293.9,349.4 294.2,346.9 294.5,353.2 294.8,350.0 295.1,354.3 295.4,345.2 295.7,343.0 296.1,366.6 296.4,351.5 296.7,353.7 297.0,345.3 297.3,349.2 297.6,342.6 297.9,350.8 298.3,355.8 298.6,350.5 298.9,347.7 299.2,357.7 299.5,347.0 299.8,355.1 300.1,333.7 300.4,357.2 300.8,343.5 301.1,326.7 301.4,346.7 301.7,351.4 302.0,333.1 302.3,351.5 302.6,347.0 303.0,356.4 303.3,347.4 303.6,329.0 303.9,350.8 304.2,362.2 304.5,344.3 304.8,335.1 305.1,349.5 305.5,349.1 305.8,341.2 306.1,348.5 306.4,361.2 306.7,328.7 307.0,340.9 307.3,348.4 307.7,333.4 308.0,357.9 308.3,349.6 308.6,359.3 308.9,359.9 309.2,350.5 309.5,360.6 309.8,356.2 310.2,342.4 310.5,346.1 310.8,365.5 311.1,342.2 311.4,371.0 311.7,361.6 312.0,357.4 312.4,352.6 312.7,346.2 313.0,369.1 313.3,356.2 313.6,355.2 313.9,343.0 314.2,359.1 314.5,362.0 314.9,350.7 315.2,354.0 315.5,357.6 315.8,359.6 316.1,367.8 316.4,352.7 316.7,346.4 317.0,347.1 317.4,346.9 317.7,357.7 318.0,356.9 318.3,348.9 318.6,365.3 318.9,341.4 319.2,336.3 319.6,337.2 319.9,340.5 320.2,337.8 320.5,349.2 320.8,352.6 321.1,339.8 321.4,344.6 321.7,343.8 322.1,348.1 322.4,340.9 322.7,341.9 323.0,351.7 323.3,352.6 323.6,345.7 323.9,349.7 324.3,342.3 324.6,354.1 324.9,348.2 325.2,349.6 325.5,337.4 325.8,340.5 326.1,341.4 326.4,338.6 326.8,361.0 327.1,339.4 327.4,348.9 327.7,350.0 328.0,343.5 328.3,346.4 328.6,341.6 329.0,343.5 329.3,362.3 329.6,340.5 329.9,357.4 330.2,365.3 330.5,328.9 330.8,346.9 331.1,341.3 331.5,356.5 331.8,345.5 332.1,366.8 332.4,350.4 332.7,351.4 333.0,353.2 333.3,350.1 333.7,360.8 334.0,351.7 334.3,347.0 334.6,354.8 334.9,352.6 335.2,346.0 335.5,353.4 335.8,364.8 336.2,356.6 336.5,346.5 336.8,341.3 337.1,347.8 337.4,348.0 337.7,346.7 338.0,356.0 338.4,354.3 338.7,365.2 339.0,354.2 339.3,355.7 339.6,351.4 339.9,344.2 340.2,343.1 340.5,369.7 340.9,341.7 341.2,350.0 341.5,342.7 341.8,362.4 342.1,361.1 342.4,360.7 342.7,344.2 343.1,348.6 343.4,360.7 343.7,362.1 344.0,351.3 344.3,353.1 344.6,351.6 344.9,369.3 345.2,364.3 345.6,334.3 345.9,363.0 346.2,334.7 346.5,346.6 346.8,351.0 347.1,371.2 347.4,365.3 347.8,353.1 348.1,337.7 348.4,370.8 348.7,349.0 349.0,347.7 349.3,347.0 349.6,341.0 349.9,355.6 350.3,343.7 350.6,359.9 350.9,341.4 351.2,337.6 351.5,338.9 351.8,347.2 352.1,336.2 352.5,360.1 352.8,346.1 353.1,346.3 353.4,345.2 353.7,326.5 354.0,360.6 354.3,355.6 354.6,340.6 355.0,350.0 355.3,333.1 355.6,344.7 355.9,336.6 356.2,355.4 356.5,344.8 356.8,342.2 357.2,355.8 357.5,346.9 357.8,338.9 358.1,343.4 358.4,348.1 358.7,337.7 359.0,327.6 359.3,338.7 359.7,352.7 360.0,339.9 360.3,353.2 360.6,345.8 360.9,344.9 361.2,337.1 361.5,336.4 361.9,358.1 362.2,345.9 362.5,350.1 362.8,333.7 363.1,345.8 363.4,343.6 363.7,362.2 364.0,331.3 364.4,341.4 364.7,349.3 365.0,356.4 365.3,347.0 365.6,354.1 365.9,358.1 366.2,349.7 366.6,345.5 366.9,354.9 367.2,351.2 367.5,351.3 367.8,361.8 368.1,357.8 368.4,343.1 368.7,376.5 369.1,342.1 369.4,384.0 369.7,341.6 370.0,351.2 370.3,354.1 370.6,366.1 370.9,383.9 371.3,352.2 371.6,357.9 371.9,350.9 372.2,349.9 372.5,355.4 372.8,367.7 373.1,361.1 373.4,367.5 373.8,347.5 374.1,357.7 374.4,362.9 374.7,352.8 375.0,346.8 375.3,344.1 375.6,354.9 376.0,356.4 376.3,350.2 376.6,347.2 376.9,356.5 377.2,348.1 377.5,343.6 377.8,355.9 378.1,351.1 378.5,350.7 378.8,364.6 379.1,348.0 379.4,369.6 379.7,336.2 380.0,335.1 380.3,340.8 380.6,344.3 381.0,325.8 381.3,366.8 381.6,347.7 381.9,356.9 382.2,348.3 382.5,343.7 382.8,361.2 383.2,336.0 383.5,339.4 383.8,343.0 384.1,348.0 384.4,346.0 384.7,333.5 385.0,357.6 385.3,339.6 385.7,341.8 386.0,339.9 386.3,353.9 386.6,363.8 386.9,346.0 387.2,367.2 387.5,344.3 387.9,361.9 388.2,349.8 388.5,368.9 388.8,349.6 389.1,352.2 389.4,342.4 389.7,354.2 390.0,343.5 390.4,358.6 390.7,350.6 391.0,341.4 391.3,341.2 391.6,348.2 391.9,350.2 392.2,355.2 392.6,350.4 392.9,350.6 393.2,348.1 393.5,360.1 393.8,363.6 394.1,361.4 394.4,347.1 394.7,363.3 395.1,349.3 395.4,345.5 395.7,358.2 396.0,357.5 396.3,366.3 396.6,356.0 396.9,368.7 397.3,358.5 397.6,359.5 397.9,358.3 398.2,357.6 398.5,362.7 398.8,355.8 399.1,355.0 399.4,356.8 399.8,363.1 400.1,363.4 400.4,339.1 400.7,363.8 401.0,353.8 401.3,364.5 401.6,354.4 402.0,347.2 402.3,353.2 402.6,360.1 402.9,352.3 403.2,359.9 403.5,351.8 403.8,343.5 404.1,356.1 404.5,354.4 404.8,357.6 405.1,351.6 405.4,346.6 405.7,346.4 406.0,347.5 406.3,341.2 406.7,342.0 407.0,344.5 407.3,346.8 407.6,354.2 407.9,349.8 408.2,335.0 408.5,344.6 408.8,357.0 409.2,349.1 409.5,359.2 409.8,346.7 410.1,349.4"/>
<polyline stroke="#f00" points="96.8,417.2 97.1,411.2 97.4,412.4 97.7,418.1 98.1,418.3 98.4,433.4 98.7,423.6 99.0,418.5 99.3,425.1 99.6,415.1 99.9,414.3 100.2,411.2 100.6,414.3 100.9,417.0 101.2,405.8 101.5,418.0 101.8,420.6 102.1,410.8 102.4,407.3 102.8,417.2 103.1,405.9 103.4,410.9 103.7,405.4 104.0,406.1 104.3,420.1 104.6,409.8 104.9,414.5 105.3,413.7 105.6,408.6 105.9,405.0 106.2,407.7 106.5,403.4 106.8,412.9 107.1,410.5 107.5,400.6 107.8,403.8 108.1,406.4 108.4,411.9 108.7,405.7 109.0,407.5 109.3,412.5 109.6,409.6 110.0,405.5 110.3,403.6 110.6,404.9 110.9,413.0 111.2,406.8 111.5,407.5 111.8,403.6 112.2,403.0 112.5,402.8 112.8,404.3 113.1,400.0 113.4,399.6 113.7,397.7 114.0,399.5 114.3,402.1 114.7,398.1 115.0,395.8 115.3,398.7 115.6,396.3 115.9,401.4 116.2,396.4 116.5,401.5 116.9,396.8 117.2,397.7 117.5,394.0 117.8,392.4 118.1,395.6 118.4,392.9 118.7,398.0 119.0,395.8 119.4,390.5 119.7,390.2 120.0,390.4 120.3,388.6 120.6,393.7 120.9,390.0 121.2,388.8 121.6,387.6 121.9,383.5 122.2,389.1 122.5,387.9 122.8,385.0 123.1,387.2 123.4,383.0 123.7,383.4 124.1,385.3 124.4,388.4 124.7,382.7 125.0,381.9 125.3,381.0 125.6,390.0 125.9,386.7 126.3,381.7 126.6,390.1 126.9,387.4 127.2,381.5 127.5,382.7 127.8,379.2 128.1,377.9 128.4,376.8 128.8,382.8 129.1,380.7 129.4,380.8 129.7,382.3 130.0,374.9 130.3,386.9 130.6,387.7 130.9,380.4 131.3,390.9 131.6,387.0 131.9,376.5 132.2,377.6 132.5,377.1 132.8,386.5 133.1,380.2 133.5,379.1 133.8,382.8 134.1,382.9 134.4,377.7 134.7,372.7 135.0,373.8 135.3,388.7 135.6,376.9 136.0,378.4 136.3,379.5 136.6,369.4 136.9,373.2 137.2,376.3 137.5,375.5 137.8,380.5 138.2,378.0 138.5,385.0 138.8,391.6 139.1,385.7 139.4,372.5 139.7,377.4 140.0,388.0 140.3,378.1 140.7,384.9 141.0,380.9 141.3,397.0 141.6,380.8 141.9,382.0 142.2,386.9 142.5,377.0 142.9,379.2 143.2,384.4 143.5,379.3 143.8,373.4 144.1,372.8 144.4,377.2 144.7,382.2 145.0,379.5 145.4,370.8 145.7,364.7 146.0,374.7 146.3,357.4 146.6,364.7 146.9,369.8 147.2,370.4 147.6,366.1 147.9,367.9 148.2,367.6 148.5,365.6 148.8,368.6 149.1,367.7 149.4,365.5 149.7,369.2 150.1,364.3 150.4,364.7 150.7,360.6 151.0,365.9 151.3,365.9 151.6,362.2 151.9,363.8 152.3,366.3 152.6,362.6 152.9,373.8 153.2,363.4 153.5,362.3 153.8,367.5 154.1,370.0 154.4,369.4 154.8,358.3 155.1,370.2 155.4,364.4 155.7,369.7 156.0,364.7 156.3,366.7 156.6,362.5 157.0,360.7 157.3,354.5 157.6,361.1 157.9,361.1 158.2,359.5 158.5,360.2 158.8,356.3 159.1,350.3 159.5,356.4 159.8,345.5 160.1,352.4 160.4,351.0 160.7,345.9 161.0,348.9 161.3,342.2 161.7,348.8 162.0,339.9 162.3,344.3 162.6,347.1 162.9,348.3 163.2,340.8 163.5,339.3 163.8,342.5 164.2,349.0 164.5,339.3 164.8,343.4 165.1,341.7 165.4,339.3 165.7,340.9 166.0,341.9 166.4,346.1 166.7,345.0 167.0,336.0 167.3,339.1 167.6,341.1 167.9,330.0 168.2,339.9 168.5,340.1 168.9,348.5 169.2,346.9 169.5,342.1 169.8,345.0 170.1,341.7 170.4,340.2 170.7,339.9 171.1,333.8 171.4,341.6 171.7,342.9 172.0,349.8 172.3,335.3 172.6,331.3 172.9,334.5 173.2,327.9 173.6,320.9 173.9,326.2 174.2,339.4 174.5,323.1 174.8,325.2 175.1,330.8 175.4,328.2 175.8,330.5 176.1,335.0 176.4,334.2 176.7,341.5 177.0,333.5 177.3,325.0 177.6,336.2 177.9,327.0 178.3,332.7 178.6,332.2 178.9,333.5 179.2,343.3 179.5,336.1 179.8,331.8 180.1,334.1 180.5,347.5 180.8,325.8 181.1,346.9 181.4,346.9 181.7,336.4 182.0,332.3 182.3,331.3 182.6,346.1 183.0,330.0 183.3,327.6 183.6,342.6 183.9,317.6 184.2,333.6 184.5,328.7 184.8,332.5 185.2,333.1 185.5,324.5 185.8,333.2 186.1,329.1 186.4,333.6 186.7,336.7 187.0,321.6 187.3,320.5 187.7,352.4 188.0,337.1 188.3,340.6 188.6,354.2 188.9,339.9 189.2,331.6 189.5,336.5 189.9,333.9 190.2,325.5 190.5,336.7 190.8,339.5 191.1,343.3 191.4,338.0 191.7,335.1 192.0,320.6 192.4,312.5 192.7,321.4 193.0,331.9 193.3,323.5 193.6,317.4 193.9,321.7 194.2,316.8 194.5,310.5 194.9,308.6 195.2,326.6 195.5,301.9 195.8,317.7 196.1,319.7 196.4,317.5 196.7,322.0 197.1,334.3 197.4,310.5 197.7,312.3 198.0,319.5 198.3,320.9 198.6,320.5 198.9,310.3 199.2,308.4 199.6,309.1 199.9,314.4 200.2,325.7 200.5,311.8 200.8,325.9 201.1,318.4 201.4,310.6 201.8,310.1 202.1,322.7 202.4,305.5 202.7,319.8 203.0,317.7 203.3,327.2 203.6,337.0 203.9,327.8 204.3,320.2 204.6,319.0 204.9,329.3 205.2,323.1 205.5,316.5 205.8,327.8 206.1,323.1 206.5,317.3 206.8,318.0 207.1,322.7 207.4,324.1 207.7,316.1 208.0,325.7 208.3,315.4 208.6,304.6 209.0,316.5 209.3,299.5 209.6,299.3 209.9,306.0 210.2,290.7 210.5,306.1 210.8,308.4 211.2,283.7 211.5,323.4 211.8,320.2 212.1,314.0 212.4,301.8 212.7,310.8 213.0,305.0 213.3,306.0 213.7,313.1 214.0,306.5 214.3,305.6 214.6,307.3 214.9,325.6 215.2,292.7 215.5,329.2 215.9,307.5 216.2,306.4 216.5,322.7 216.8,300.7 217.1,307.6 217.4,311.8 217.7,325.9 218.0,308.5 218.4,321.0 218.7,318.0 219.0,315.7 219.3,308.6 219.6,323.0 219.9,323.6 220.2,324.0 220.6,322.6 220.9,327.1 221.2,311.0 221.5,320.6 221.8,315.4 222.1,310.7 222.4,302.4 222.7,316.4 223.1,305.6 223.4,309.2 223.7,300.3 224.0,311.5 224.3,301.4 224.6,292.2 224.9,314.8 225.3,293.0 225.6,309.1 225.9,309.9 226.2,299.9 226.5,290.8 226.8,315.1 227.1,300.7 227.4,301.3 227.8,301.9 228.1,320.0 228.4,305.3 228.7,315.5 229.0,312.9 229.3,309.2 229.6,317.2 230.0,307.2 230.3,325.1 230.6,312.1 230.9,301.0 231.2,302.3 231.5,299.0 231.8,310.2 232.1,307.6 232.5,306.8 232.8,304.4 233.1,294.1 233.4,299.7 233.7,299.3 234.0,304.9 234.3,310.3 234.7,301.4 235.0,304.4 235.3,298.2 235.6,305.2 235.9,297.5 236.2,289.1 236.5,302.8 236.8,311.4 237.2,302.8 237.5,292.3 237.8,288.1 238.1,299.9 238.4,291.1 238.7,296.3 239.0,308.8 239.4,294.4 239.7,295.2 240.0,300.1 240.3,293.4 240.6,283.4 240.9,295.8 241.2,313.2 241.5,298.9 241.9,289.0 242.2,306.4 242.5,278.6 242.8,300.1 243.1,308.7 243.4,309.2 243.7,309.7 244.1,315.7 244.4,281.9 244.7,301.4 245.0,283.6 245.3,293.8 245.6,288.1 245.9,301.5 246.2,299.1 246.6,298.8 246.9,300.8 247.2,312.8 247.5,285.3 247.8,298.4 248.1,312.2 248.4,307.1 248.8,290.2 249.1,299.5 249.4,312.5 249.7,300.4 250.0,302.1 250.3,297.2 250.6,293.4 250.9,307.1 251.3,303.1 251.6,308.5 251.9,301.4 252.2,304.6 252.5,310.0 252.8,310.0 253.1,296.0 253.4,301.7 253.8,289.6 254.1,318.8 254.4,318.8 254.7,298.6 255.0,311.2 255.3,303.6 255.6,291.9 256.0,304.0 256.3,299.7 256.6,308.3 256.9,292.2 257.2,298.1 257.5,305.4 257.8,305.8 258.1,303.2 258.5,295.5 258.8,305.1 259.1,309.4 259.4,307.4 259.7,310.9 260.0,300.7 260.3,309.6 260.7,302.6 261.0,304.6 261.3,304.1 261.6,312.1 261.9,326.6 262.2,311.8 262.5,311.0 262.8,309.1 263.2,316.7 263.5,317.0 263.8,307.3 264.1,317.8 264.4,307.6 264.7,310.1 265.0,316.6 265.4,315.3 265.7,319.4 266.0,297.6 266.3,317.9 266.6,320.7 266.9,318.9 267.2,310.5 267.5,333.7 267.9,323.5 268.2,320.1 268.5,298.9 268.8,314.3 269.1,321.1 269.4,313.0 269.7,329.2 270.1,319.7 270.4,315.9 270.7,325.7 271.0,311.6 271.3,315.1 271.6,315.5 271.9,319.6 272.2,330.0 272.6,303.3 272.9,320.4 273.2,307.1 273.5,312.9 273.8,320.6 274.1,304.5 274.4,315.4 274.8,324.2 275.1,306.6 275.4,318.9 275.7,309.7 276.0,316.0 276.3,317.1 276.6,312.8 276.9,326.5 277.3,305.7 277.6,310.1 277.9,297.0 278.2,321.7 278.5,306.2 278.8,302.1 279.1,317.4 279.5,307.6 279.8,313.1 280.1,300.8 280.4,319.5 280.7,316.7 281.0,325.1 281.3,300.4 281.6,327.9 282.0,305.9 282.3,310.3 282.6,317.5 282.9,305.0 283.2,308.8 283.5,314.1 283.8,297.7 284.2,305.5 284.5,317.5 284.8,295.9 285.1,301.6 285.4,304.0 285.7,304.5 286.0,309.7 286.3,320.4 286.7,306.4 287.0,308.2 287.3,291.3 287.6,307.3 287.9,298.4 288.2,301.3 288.5,310.9 288.9,302.6 289.2,299.9 289.5,305.6 289.8,307.3 290.1,301.4 290.4,301.2 290.7,311.7 291.0,290.0 291.4,312.1 291.7,295.2 292.0,300.3 292.3,291.2 292.6,300.3 292.9,314.2 293.2,290.3 293.6,299.2 293.9,303.5 294.2,289.4 294.5,305.8 294.8,285.1 295.1,281.1 295.4,304.9 295.7,276.0 296.1,283.2 296.4,294.4 296.7,288.3 297.0,287.9 297.3,299.6 297.6,286.3 297.9,305.2 298.3,275.7 298.6,294.9 298.9,290.3 299.2,299.2 299.5,301.7 299.8,285.4 300.1,296.7 300.4,302.2 300.8,293.3 301.1,303.9 301.4,286.2 301.7,305.2 302.0,282.9 302.3,305.1 302.6,315.0 303.0,287.4 303.3,289.9 303.6,308.2 303.9,293.0 304.2,296.3 304.5,306.1 304.8,307.3 305.1,297.5 305.5,290.4 305.8,310.5 306.1,308.6 306.4,293.5 306.7,289.2 307.0,302.7 307.3,309.4 307.7,295.2 308.0,297.0 308.3,283.8 308.6,292.7 308.9,311.5 309.2,308.7 309.5,308.1 309.8,303.9 310.2,299.9 310.5,283.8 310.8,308.3 311.1,311.3 311.4,301.8 311.7,304.9 312.0,319.4 312.4,300.7 312.7,299.9 313.0,295.8 313.3,295.7 313.6,299.8 313.9,294.3 314.2,308.3 314.5,306.8 314.9,299.6 315.2,312.6 315.5,307.8 315.8,312.1 316.1,304.7 316.4,315.4 316.7,317.0 317.0,312.3 317.4,308.5 317.7,304.2 318.0,301.8 318.3,301.9 318.6,302.2 318.9,294.4 319.2,297.6 319.6,304.2 319.9,302.7 320.2,279.5 320.5,304.9 320.8,293.9 321.1,292.9 321.4,305.2 321.7,298.0 322.1,311.6 322.4,297.0 322.7,304.1 323.0,288.9 323.3,299.7 323.6,302.1 323.9,304.0 324.3,297.2 324.6,302.5 324.9,312.1 325.2,301.3 325.5,303.6 325.8,297.9 326.1,305.0 326.4,302.2 326.8,290.6 327.1,302.2 327.4,301.6 327.7,296.7 328.0,283.3 328.3,299.7 328.6,291.7 329.0,295.2 329.3,286.1 329.6,275.8 329.9,290.9 330.2,282.9 330.5,281.4 330.8,291.2 331.1,289.2 331.5,285.4 331.8,275.3 332.1,286.9 332.4,284.4 332.7,308.3 333.0,288.7 333.3,302.0 333.7,296.1 334.0,308.1 334.3,293.7 334.6,311.8 334.9,295.5 335.2,296.9 335.5,294.9 335.8,303.6 336.2,308.8 336.5,299.5 336.8,314.6 337.1,302.8 337.4,310.7 337.7,315.8 338.0,307.0 338.4,319.1 338.7,299.2 339.0,287.9 339.3,303.7 339.6,312.5 339.9,299.8 340.2,307.5 340.5,309.3 340.9,306.7 341.2,296.3 341.5,307.5 341.8,310.3 342.1,320.4 342.4,299.4 342.7,297.0 343.1,300.8 343.4,301.4 343.7,306.3 344.0,305.0 344.3,310.7 344.6,318.3 344.9,310.0 345.2,318.6 345.6,324.6 345.9,306.8 346.2,330.8 346.5,312.3 346.8,318.2 347.1,313.3 347.4,322.2 347.8,316.2 348.1,303.3 348.4,310.5 348.7,293.9 349.0,314.6 349.3,307.2 349.6,302.8 349.9,297.1 350.3,298.0 350.6,303.4 350.9,305.7 351.2,318.2 351.5,313.2 351.8,322.3 352.1,300.0 352.5,303.3 352.8,313.2 353.1,307.2 353.4,306.8 353.7,296.6 354.0,301.8 354.3,316.4 354.6,303.5 355.0,311.2 355.3,308.0 355.6,308.7 355.9,294.4 356.2,307.3 356.5,310.2 356.8,325.7 357.2,314.6 357.5,314.0 357.8,301.7 358.1,329.3 358.4,282.4 358.7,289.6 359.0,305.3 359.3,302.1 359.7,296.9 360.0,290.0 360.3,304.3 360.6,300.5 360.9,307.3 361.2,329.0 361.5,320.4 361.9,307.0 362.2,305.6 362.5,319.7 362.8,334.8 363.1,317.4 363.4,320.6 363.7,329.1 364.0,315.7 364.4,319.8 364.7,307.1 365.0,335.1 365.3,315.0 365.6,324.7 365.9,319.2 366.2,324.5 366.6,312.2 366.9,309.5 367.2,304.6 367.5,324.0 367.8,310.6 368.1,317.6 368.4,302.8 368.7,316.7 369.1,320.5 369.4,295.7 369.7,304.1 370.0,316.3 370.3,295.5 370.6,317.9 370.9,297.9 371.3,305.7 371.6,316.6 371.9,300.6 372.2,310.2 372.5,306.4 372.8,292.1 373.1,294.0 373.4,294.2 373.8,289.4 374.1,312.5 374.4,308.8 374.7,288.0 375.0,298.0 375.3,293.9 375.6,299.0 376.0,289.7 376.3,301.7 376.6,293.9 376.9,315.4 377.2,301.6 377.5,298.3 377.8,294.8 378.1,296.1 378.5,302.1 378.8,323.6 379.1,306.2 379.4,320.1 379.7,314.5 380.0,327.9 380.3,310.7 380.6,321.1 381.0,320.8 381.3,299.7 381.6,310.4 381.9,312.6 382.2,307.3 382.5,310.6 382.8,306.8 383.2,310.0 383.5,307.7 383.8,332.7 384.1,320.0 384.4,322.7 384.7,309.4 385.0,324.3 385.3,329.1 385.7,317.0 386.0,300.6 386.3,314.1 386.6,316.6 386.9,305.3 387.2,322.4 387.5,303.7 387.9,294.6 388.2,310.4 388.5,301.0 388.8,306.9 389.1,306.9 389.4,319.6 389.7,302.1 390.0,303.6 390.4,308.8 390.7,297.6 391.0,313.2 391.3,290.8 391.6,308.6 391.9,310.2 392.2,298.9 392.6,297.5 392.9,294.7 393.2,303.0 393.5,308.7 393.8,315.0 394.1,306.7 394.4,312.7 394.7,302.1 395.1,299.0 395.4,288.3 395.7,296.8 396.0,305.2 396.3,304.3 396.6,308.5 396.9,300.5 397.3,295.1 397.6,307.5 397.9,305.3 398.2,305.4 398.5,291.9 398.8,296.4 399.1,297.9 399.4,295.9 399.8,308.1 400.1,300.3 400.4,310.7 400.7,298.7 401.0,312.5 401.3,313.8 401.6,327.0 402.0,312.5 402.3,301.6 402.6,330.2 402.9,302.2 403.2,315.1 403.5,319.0 403.8,311.6 404.1,322.7 404.5,317.5 404.8,319.8 405.1,312.5 405.4,298.2 405.7,318.4 406.0,306.9 406.3,301.5 406.7,313.8 407.0,320.7 407.3,312.6 407.6,324.2 407.9,318.7 408.2,323.6 408.5,310.6 408.8,318.1 409.2,314.0 409.5,322.7 409.8,330.0 410.1,314.1"/>
<polyline stroke="#0f0" points="96.8,440.7 97.1,441.7 97.4,446.7 97.7,435.0 98.1,447.5 98.4,436.7 98.7,444.1 99.0,444.5 99.3,445.8 99.6,446.0 99.9,443.6 100.2,427.0 100.6,434.3 100.9,450.0 101.2,446.5 101.5,433.2 101.8,449.9 102.1,451.6 102.4,433.6 102.8,430.2 103.1,435.3 103.4,445.1 103.7,441.6 104.0,437.6 104.3,431.8 104.6,435.8 104.9,443.1 105.3,438.8 105.6,435.0 105.9,445.0 106.2,443.8 106.5,433.6 106.8,445.8 107.1,427.9 107.5,432.1 107.8,423.5 108.1,423.8 108.4,416.8 108.7,420.8 109.0,438.9 109.3,437.3 109.6,429.5 110.0,430.1 110.3,425.8 110.6,429.8 110.9,424.7 111.2,417.3 111.5,427.4 111.8,428.7 112.2,417.8 112.5,434.5 112.8,426.3 113.1,422.7 113.4,414.0 113.7,410.3 114.0,406.1 114.3,431.7 114.7,411.5 115.0,423.5 115.3,425.6 115.6,423.7 115.9,419.0 116.2,427.6 116.5,407.5 116.9,387.9 117.2,420.1 117.5,419.1 117.8,388.9 118.1,396.3 118.4,397.3 118.7,401.7 119.0,409.7 119.4,430.9 119.7,411.1 120.0,406.7 120.3,419.0 120.6,398.7 120.9,413.3 121.2,424.4 121.6,415.3 121.9,441.7 122.2,420.9 122.5,413.1 122.8,408.2 123.1,417.8 123.4,418.8 123.7,415.0 124.1,408.6 124.4,418.9 124.7,397.1 125.0,423.2 125.3,409.9 125.6,429.1 125.9,386.9 126.3,401.5 126.6,412.9 126.9,399.4 127.2,392.3 127.5,400.4 127.8,421.7 128.1,410.0 128.4,415.6 128.8,383.0 129.1,397.9 129.4,385.5 129.7,407.9 130.0,386.5 130.3,397.2 130.6,400.6 130.9,400.3 131.3,396.3 131.6,400.5 131.9,410.8 132.2,397.7 132.5,406.9 132.8,395.4 133.1,403.8 133.5,387.9 133.8,384.4 134.1,419.4 134.4,401.1 134.7,404.6 135.0,395.3 135.3,425.0 135.6,397.1 136.0,385.5 136.3,372.9 136.6,400.2 136.9,385.5 137.2,392.6 137.5,391.4 137.8,410.8 138.2,397.2 138.5,424.2 138.8,397.0 139.1,412.1 139.4,399.1 139.7,406.1 140.0,402.2 140.3,390.2 140.7,414.0 141.0,398.5 141.3,376.1 141.6,407.5 141.9,392.3 142.2,430.9 142.5,389.5 142.9,384.5 143.2,382.5 143.5,402.1 143.8,378.0 144.1,416.1 144.4,382.6 144.7,402.8 145.0,390.8 145.4,384.0 145.7,369.2 146.0,394.6 146.3,385.5 146.6,391.0 146.9,376.0 147.2,396.9 147.6,411.9 147.9,383.5 148.2,403.5 148.5,372.2 148.8,390.4 149.1,400.8 149.4,372.0 149.7,403.9 150.1,387.9 150.4,400.5 150.7,379.6 151.0,387.1 151.3,381.9 151.6,359.1 151.9,397.2 152.3,397.4 152.6,384.4 152.9,379.3 153.2,393.7 153.5,376.8 153.8,389.9 154.1,396.4 154.4,393.3 154.8,387.2 155.1,374.8 155.4,377.8 155.7,382.9 156.0,355.7 156.3,383.0 156.6,392.7 157.0,381.5 157.3,382.9 157.6,370.5 157.9,397.3 158.2,369.5 158.5,386.5 158.8,363.7 159.1,363.8 159.5,375.7 159.8,374.7 160.1,378.5 160.4,360.6 160.7,388.7 161.0,375.7 161.3,352.8 161.7,369.9 162.0,386.3 162.3,377.5 162.6,373.7 162.9,358.4 163.2,364.4 163.5,359.3 163.8,365.0 164.2,354.5 164.5,360.7 164.8,369.1 165.1,366.6 165.4,365.9 165.7,364.5 166.0,359.3 166.4,364.3 166.7,363.9 167.0,372.7 167.3,359.9 167.6,371.0 167.9,373.2 168.2,364.5 168.5,370.4 168.9,370.0 169.2,382.9 169.5,362.5 169.8,389.7 170.1,379.7 170.4,357.2 170.7,369.1 171.1,347.7 171.4,376.9 171.7,366.0 172.0,368.9 172.3,352.5 172.6,347.4 172.9,355.1 173.2,346.2 173.6,359.5 173.9,361.7 174.2,349.7 174.5,327.1 174.8,352.0 175.1,325.2 175.4,352.3 175.8,336.0 176.1,336.0 176.4,318.1 176.7,324.0 177.0,354.0 177.3,353.0 177.6,339.2 177.9,351.1 178.3,342.1 178.6,335.1 178.9,354.1 179.2,349.8 179.5,338.5 179.8,348.0 180.1,318.4 180.5,319.5 180.8,342.7 181.1,332.5 181.4,344.0 181.7,341.9 182.0,343.8 182.3,337.1 182.6,354.0 183.0,358.3 183.3,346.8 183.6,325.3 183.9,323.3 184.2,352.4 184.5,344.1 184.8,326.2 185.2,332.9 185.5,344.8 185.8,329.1 186.1,341.6 186.4,363.4 186.7,350.5 187.0,344.0 187.3,330.3 187.7,370.2 188.0,346.7 188.3,343.2 188.6,375.3 188.9,348.8 189.2,369.1 189.5,351.8 189.9,347.5 190.2,345.6 190.5,336.3 190.8,358.3 191.1,330.9 191.4,341.8 191.7,348.5 192.0,338.3 192.4,352.7 192.7,324.9 193.0,336.4 193.3,338.5 193.6,344.0 193.9,334.0 194.2,341.7 194.5,340.7 194.9,336.9 195.2,349.3 195.5,353.4 195.8,325.5 196.1,335.7 196.4,339.3 196.7,341.5 197.1,334.8 197.4,329.6 197.7,337.8 198.0,353.0 198.3,335.3 198.6,337.1 198.9,338.1 199.2,344.7 199.6,336.9 199.9,340.8 200.2,341.6 200.5,337.9 200.8,349.1 201.1,341.1 201.4,342.3 201.8,327.7 202.1,352.1 202.4,333.7 202.7,354.8 203.0,342.9 203.3,342.5 203.6,346.0 203.9,342.0 204.3,346.6 204.6,345.3 204.9,342.4 205.2,352.4 205.5,342.8 205.8,349.7 206.1,344.9 206.5,352.2 206.8,356.4 207.1,344.2 207.4,339.3 207.7,346.7 208.0,349.3 208.3,355.2 208.6,358.0 209.0,352.1 209.3,351.5 209.6,340.9 209.9,355.7 210.2,334.6 210.5,347.7 210.8,339.8 211.2,364.9 211.5,342.5 211.8,354.7 212.1,345.7 212.4,349.9 212.7,358.1 213.0,357.6 213.3,357.1 213.7,361.5 214.0,349.9 214.3,339.3 214.6,356.2 214.9,363.6 215.2,355.4 215.5,348.7 215.9,359.7 216.2,342.9 216.5,345.5 216.8,352.1 217.1,348.6 217.4,344.7 217.7,353.6 218.0,352.2 218.4,362.3 218.7,347.3 219.0,365.3 219.3,364.4 219.6,365.2 219.9,342.6 220.2,358.8 220.6,356.3 220.9,351.5 221.2,343.2 221.5,346.2 221.8,345.0 222.1,339.7 222.4,332.4 222.7,329.8 223.1,338.2 223.4,325.0 223.7,319.7 224.0,314.1 224.3,323.0 224.6,308.6 224.9,338.0 225.3,318.5 225.6,346.2 225.9,345.9 226.2,324.0 226.5,320.0 226.8,314.4 227.1,322.9 227.4,330.4 227.8,324.6 228.1,318.9 228.4,325.9 228.7,316.5 229.0,333.3 229.3,330.0 229.6,319.2 230.0,311.1 230.3,325.3 230.6,320.4 230.9,320.1 231.2,326.1 231.5,328.9 231.8,329.4 232.1,331.8 232.5,337.5 232.8,323.6 233.1,330.2 233.4,329.2 233.7,337.3 234.0,326.9 234.3,321.2 234.7,318.4 235.0,341.9 235.3,328.7 235.6,325.3 235.9,322.6 236.2,319.2 236.5,315.0 236.8,330.5 237.2,340.1 237.5,335.6 237.8,311.3 238.1,323.6 238.4,328.8 238.7,331.0 239.0,322.9 239.4,338.0 239.7,333.5 240.0,327.9 240.3,325.1 240.6,326.2 240.9,313.0 241.2,317.4 241.5,335.2 241.9,342.8 242.2,327.8 242.5,323.4 242.8,329.4 243.1,317.4 243.4,311.9 243.7,319.1 244.1,324.6 244.4,343.1 244.7,320.6 245.0,328.3 245.3,322.1 245.6,303.6 245.9,311.0 246.2,329.6 246.6,340.8 246.9,318.2 247.2,328.1 247.5,329.7 247.8,336.4 248.1,319.6 248.4,320.9 248.8,308.9 249.1,314.2 249.4,315.0 249.7,323.8 250.0,304.5 250.3,312.2 250.6,318.5 250.9,330.4 251.3,314.7 251.6,313.2 251.9,326.5 252.2,334.9 252.5,320.0 252.8,316.9 253.1,310.2 253.4,308.0 253.8,308.2 254.1,317.3 254.4,319.9 254.7,336.9 255.0,325.2 255.3,305.6 255.6,328.7 256.0,318.1 256.3,305.2 256.6,309.7 256.9,323.0 257.2,309.0 257.5,312.5 257.8,321.5 258.1,310.0 258.5,312.7 258.8,322.1 259.1,305.9 259.4,326.0 259.7,308.6 260.0,305.6 260.3,308.4 260.7,323.5 261.0,307.3 261.3,304.6 261.6,333.1 261.9,310.3 262.2,333.0 262.5,311.7 262.8,324.1 263.2,321.9 263.5,324.3 263.8,328.5 264.1,318.5 264.4,303.3 264.7,311.6 265.0,320.1 265.4,312.0 265.7,319.9 266.0,309.2 266.3,316.0 266.6,313.2 266.9,312.8 267.2,333.3 267.5,313.1 267.9,323.0 268.2,316.2 268.5,319.9 268.8,319.5 269.1,322.4 269.4,305.6 269.7,337.2 270.1,312.0 270.4,327.9 270.7,313.2 271.0,315.6 271.3,328.1 271.6,330.2 271.9,318.7 272.2,288.8 272.6,315.2 272.9,325.2 273.2,344.3 273.5,324.8 273.8,333.4 274.1,337.2 274.4,337.1 274.8,327.0 275.1,331.5 275.4,333.9 275.7,323.6 276.0,339.8 276.3,322.2 276.6,314.5 276.9,330.8 277.3,326.4 277.6,321.5 277.9,321.3 278.2,348.6 278.5,328.9 278.8,333.9 279.1,344.0 279.5,336.1 279.8,324.6 280.1,335.1 280.4,335.7 280.7,325.7 281.0,323.0 281.3,342.5 281.6,340.7 282.0,336.2 282.3,319.5 282.6,328.3 282.9,347.2 283.2,337.6 283.5,328.8 283.8,328.2 284.2,342.9 284.5,324.6 284.8,313.3 285.1,327.1 285.4,354.9 285.7,326.9 286.0,324.9 286.3,327.0 286.7,311.6 287.0,329.5 287.3,311.7 287.6,320.6 287.9,322.2 288.2,307.9 288.5,311.4 288.9,326.2 289.2,316.9 289.5,332.4 289.8,334.0 290.1,323.3 290.4,317.5 290.7,327.2 291.0,328.7 291.4,330.9 291.7,321.1 292.0,319.2 292.3,326.5 292.6,331.9 292.9,324.2 293.2,319.9 293.6,311.3 293.9,313.7 294.2,309.7 294.5,323.3 294.8,323.0 295.1,321.8 295.4,314.5 295.7,323.5 296.1,315.7 296.4,321.6 296.7,322.3 297.0,330.5 297.3,329.8 297.6,337.6 297.9,331.0 298.3,334.4 298.6,324.1 298.9,332.4 299.2,328.4 299.5,334.1 299.8,316.5 300.1,323.4 300.4,326.9 300.8,339.1 301.1,324.8 301.4,318.8 301.7,320.8 302.0,325.5 302.3,322.7 302.6,321.9 303.0,327.8 303.3,321.6 303.6,311.6 303.9,312.9 304.2,332.9 304.5,323.1 304.8,311.2 305.1,327.7 305.5,333.4 305.8,320.9 306.1,326.6 306.4,324.1 306.7,332.0 307.0,333.6 307.3,315.9 307.7,324.4 308.0,330.5 308.3,320.7 308.6,331.9 308.9,308.6 309.2,336.7 309.5,315.6 309.8,327.1 310.2,305.5 310.5,338.2 310.8,319.0 311.1,334.3 311.4,334.4 311.7,335.7 312.0,338.1 312.4,330.5 312.7,328.8 313.0,326.6 313.3,328.0 313.6,323.4 313.9,334.4 314.2,321.0 314.5,321.4 314.9,314.8 315.2,316.5 315.5,328.3 315.8,323.7 316.1,314.6 316.4,327.2 316.7,314.1 317.0,320.7 317.4,328.3 317.7,313.0 318.0,315.9 318.3,319.4 318.6,315.8 318.9,319.6 319.2,310.5 319.6,318.9 319.9,323.2 320.2,318.8 320.5,316.1 320.8,317.0 321.1,319.2 321.4,318.4 321.7,307.7 322.1,328.1 322.4,334.6 322.7,331.6 323.0,318.2 323.3,326.1 323.6,331.2 323.9,328.6 324.3,316.5 324.6,333.9 324.9,347.5 325.2,336.1 325.5,320.2 325.8,338.0 326.1,340.3 326.4,346.7 326.8,333.2 327.1,319.9 327.4,314.2 327.7,330.2 328.0,332.7 328.3,314.2 328.6,321.9 329.0,331.7 329.3,330.9 329.6,321.9 329.9,317.6 330.2,326.5 330.5,321.6 330.8,319.0 331.1,322.7 331.5,303.6 331.8,320.4 332.1,320.5 332.4,312.5 332.7,328.6 333.0,311.4 333.3,322.9 333.7,324.3 334.0,318.3 334.3,329.8 334.6,307.3 334.9,305.6 335.2,317.7 335.5,306.0 335.8,319.8 336.2,315.8 336.5,309.3 336.8,298.8 337.1,309.3 337.4,316.4 337.7,309.2 338.0,328.3 338.4,306.1 338.7,317.3 339.0,318.6 339.3,324.1 339.6,307.9 339.9,308.0 340.2,311.6 340.5,312.7 340.9,319.6 341.2,322.8 341.5,300.1 341.8,323.2 342.1,302.2 342.4,297.5 342.7,316.2 343.1,332.4 343.4,311.2 343.7,307.9 344.0,311.5 344.3,314.4 344.6,309.0 344.9,320.1 345.2,320.7 345.6,316.8 345.9,306.3 346.2,322.4 346.5,316.6 346.8,310.5 347.1,315.6 347.4,313.9 347.8,309.3 348.1,334.3 348.4,326.8 348.7,303.3 349.0,306.5 349.3,319.5 349.6,309.6 349.9,332.8 350.3,307.4 350.6,310.2 350.9,312.9 351.2,319.3 351.5,313.3 351.8,328.2 352.1,332.4 352.5,327.6 352.8,329.5 353.1,315.6 353.4,315.6 353.7,317.5 354.0,321.4 354.3,336.6 354.6,317.6 355.0,320.2 355.3,323.3 355.6,318.4 355.9,314.8 356.2,311.1 356.5,315.6 356.8,333.1 357.2,320.0 357.5,317.2 357.8,308.4 358.1,331.0 358.4,315.0 358.7,311.3 359.0,336.5 359.3,326.0 359.7,307.2 360.0,321.1 360.3,305.0 360.6,306.8 360.9,319.0 361.2,335.3 361.5,322.3 361.9,338.2 362.2,326.6 362.5,322.6 362.8,311.8 363.1,317.4 363.4,320.6 363.7,327.7 364.0,331.6 364.4,324.4 364.7,318.9 365.0,315.4 365.3,311.4 365.6,321.2 365.9,314.8 366.2,307.3 366.6,333.3 366.9,325.4 367.2,332.8 367.5,315.6 367.8,321.9 368.1,318.5 368.4,322.9 368.7,334.8 369.1,313.9 369.4,314.1 369.7,317.3 370.0,315.0 370.3,314.5 370.6,305.7 370.9,311.4 371.3,309.5 371.6,319.5 371.9,303.1 372.2,318.1 372.5,304.2 372.8,315.8 373.1,314.3 373.4,312.6 373.8,313.2 374.1,321.1 374.4,323.2 374.7,321.8 375.0,326.0 375.3,324.9 375.6,318.6 376.0,335.9 376.3,322.8 376.6,329.2 376.9,318.6 377.2,332.6 377.5,329.8 377.8,333.1 378.1,349.5 378.5,344.3 378.8,341.2 379.1,330.7 379.4,342.3 379.7,357.0 380.0,332.3 380.3,329.6 380.6,351.3 381.0,343.9 381.3,341.6 381.6,340.4 381.9,347.3 382.2,327.6 382.5,338.2 382.8,344.3 383.2,356.3 383.5,343.6 383.8,338.8 384.1,336.1 384.4,350.5 384.7,353.4 385.0,367.3 385.3,367.4 385.7,352.1 386.0,358.9 386.3,354.7 386.6,350.4 386.9,356.5 387.2,337.2 387.5,356.8 387.9,332.8 388.2,351.7 388.5,354.4 388.8,367.1 389.1,350.5 389.4,345.5 389.7,347.0 390.0,340.5 390.4,352.7 390.7,356.5 391.0,354.2 391.3,349.7 391.6,344.4 391.9,349.1 392.2,346.5 392.6,347.7 392.9,355.4 393.2,345.4 393.5,350.2 393.8,359.0 394.1,340.2 394.4,363.2 394.7,345.2 395.1,345.8 395.4,352.2 395.7,340.5 396.0,349.0 396.3,351.0 396.6,334.6 396.9,353.9 397.3,328.8 397.6,343.4 397.9,332.8 398.2,335.8 398.5,339.4 398.8,343.4 399.1,358.5 399.4,333.1 399.8,333.3 400.1,350.1 400.4,341.5 400.7,347.9 401.0,336.4 401.3,327.1 401.6,342.0 402.0,350.1 402.3,340.1 402.6,329.7 402.9,334.5 403.2,345.6 403.5,346.3 403.8,326.0 404.1,345.1 404.5,339.2 404.8,339.3 405.1,329.3 405.4,346.8 405.7,343.6 406.0,337.6 406.3,340.8 406.7,339.2 407.0,336.8 407.3,348.1 407.6,334.5 407.9,328.3 408.2,326.9 408.5,336.6 408.8,350.5 409.2,345.2 409.5,343.2 409.8,343.0 410.1,343.7"/>
</g>
<rect x="96.8" y="262.1" width="313.3" height="203.5" fill="none" stroke="#000" stroke-width="1.4"/>
<path d="M136.0 465.6v-3.2M136.0 262.1v3.2M175.1 465.6v-5M175.1 262.1v5M214.3 465.6v-3.2M214.3 262.1v3.2M253.4 465.6v-5M253.4 262.1v5M292.6 465.6v-3.2M292.6 262.1v3.2M331.8 465.6v-5M331.8 262.1v5M370.9 465.6v-3.2M370.9 262.1v3.2M96.8 452.9h3.2M410.1 452.9h-3.2M96.8 440.2h5M410.1 440.2h-5M96.8 427.4h3.2M410.1 427.4h-3.2M96.8 414.7h5M410.1 414.7h-5M96.8 402.0h3.2M410.1 402.0h-3.2M96.8 389.3h5M410.1 389.3h-5M96.8 376.6h3.2M410.1 376.6h-3.2M96.8 363.9h5M410.1 363.9h-5M96.8 351.1h3.2M410.1 351.1h-3.2M96.8 338.4h5M410.1 338.4h-5M96.8 325.7h3.2M410.1 325.7h-3.2M96.8 313.0h5M410.1 313.0h-5M96.8 300.3h3.2M410.1 300.3h-3.2M96.8 287.5h5M410.1 287.5h-5M96.8 274.8h3.2M410.1 274.8h-3.2" stroke="#000" stroke-width="1.4" fill="none"/>
<text transform="translate(91.4 446.5) scale(1 1.06)" font-size="24.5" text-anchor="end">10</text>
<text transform="translate(91.4 421.0) scale(1 1.06)" font-size="24.5" text-anchor="end">20</text>
<text transform="translate(91.4 395.6) scale(1 1.06)" font-size="24.5" text-anchor="end">30</text>
<text transform="translate(91.4 370.2) scale(1 1.06)" font-size="24.5" text-anchor="end">40</text>
<text transform="translate(91.4 344.7) scale(1 1.06)" font-size="24.5" text-anchor="end">50</text>
<text transform="translate(91.4 319.3) scale(1 1.06)" font-size="24.5" text-anchor="end">60</text>
<text transform="translate(91.4 293.8) scale(1 1.06)" font-size="24.5" text-anchor="end">70</text>
<text transform="translate(91.4 268.4) scale(1 1.06)" font-size="24.5" text-anchor="end">80</text>
<text transform="translate(96.8 490.8) scale(1 1.06)" font-size="24.5" text-anchor="middle">0</text>
<text transform="translate(175.1 490.8) scale(1 1.06)" font-size="24.5" text-anchor="middle">5</text>
<text transform="translate(253.4 490.8) scale(1 1.06)" font-size="24.5" text-anchor="middle">10</text>
<text transform="translate(331.8 490.8) scale(1 1.06)" font-size="24.5" text-anchor="middle">15</text>
<text transform="translate(410.1 490.8) scale(1 1.06)" font-size="24.5" text-anchor="middle">20</text>
<line x1="228.2" x2="294.6" y1="383.6" y2="383.6" stroke="#000" stroke-width="1.6"/>
<text transform="translate(300.7 392.9) scale(1 1.06)" font-size="24.5" fill="#000">NN</text>
<line x1="228.2" x2="294.6" y1="415.1" y2="415.1" stroke="#f00" stroke-width="1.6"/>
<text transform="translate(300.7 424.7) scale(1 1.06)" font-size="24.5" fill="#f00">NN-E22K</text>
<line x1="228.2" x2="294.6" y1="446.6" y2="446.6" stroke="#0f0" stroke-width="1.6"/>
<text transform="translate(300.7 455.9) scale(1 1.06)" font-size="24.5" fill="#0f0">NN-E22Q</text>
<g fill="none" stroke-width="1.5" stroke-linejoin="miter">
<polyline stroke="#000" points="100.9,683.2 101.2,679.7 101.5,654.4 101.8,678.4 102.2,655.5 102.5,673.3 102.8,688.2 103.1,661.2 103.4,672.1 103.7,666.1 104.0,675.6 104.3,691.7 104.7,675.3 105.0,666.0 105.3,670.6 105.6,646.4 105.9,676.6 106.2,673.9 106.5,665.1 106.9,669.0 107.2,664.0 107.5,664.2 107.8,672.6 108.1,672.3 108.4,674.0 108.7,671.2 109.1,673.7 109.4,678.0 109.7,675.8 110.0,675.0 110.3,664.9 110.6,664.9 110.9,665.7 111.2,659.4 111.6,661.1 111.9,651.2 112.2,668.3 112.5,662.4 112.8,664.1 113.1,652.0 113.4,660.7 113.8,653.9 114.1,650.7 114.4,653.2 114.7,651.3 115.0,649.2 115.3,648.4 115.6,648.5 116.0,648.6 116.3,644.6 116.6,640.7 116.9,644.4 117.2,628.4 117.5,654.6 117.8,633.3 118.1,637.9 118.5,639.4 118.8,645.5 119.1,634.8 119.4,632.1 119.7,653.8 120.0,632.6 120.3,630.3 120.7,626.3 121.0,629.0 121.3,637.9 121.6,636.5 121.9,632.5 122.2,623.3 122.5,644.7 122.9,640.9 123.2,638.3 123.5,642.1 123.8,638.5 124.1,634.7 124.4,641.5 124.7,642.0 125.0,642.0 125.4,639.4 125.7,640.8 126.0,642.5 126.3,631.8 126.6,644.3 126.9,638.2 127.2,648.0 127.6,628.3 127.9,646.7 128.2,630.4 128.5,634.1 128.8,638.1 129.1,647.2 129.4,645.1 129.8,632.8 130.1,647.3 130.4,640.5 130.7,636.5 131.0,626.5 131.3,636.7 131.6,634.8 131.9,641.6 132.3,635.0 132.6,625.6 132.9,628.3 133.2,639.4 133.5,628.2 133.8,640.8 134.1,637.4 134.5,639.7 134.8,631.5 135.1,629.2 135.4,639.2 135.7,625.4 136.0,656.4 136.3,641.4 136.7,654.8 137.0,649.2 137.3,643.0 137.6,657.3 137.9,635.0 138.2,650.8 138.5,650.4 138.8,643.9 139.2,649.3 139.5,656.7 139.8,647.6 140.1,653.0 140.4,664.3 140.7,650.0 141.0,651.6 141.4,655.5 141.7,658.1 142.0,646.0 142.3,652.4 142.6,642.3 142.9,653.5 143.2,640.6 143.5,648.3 143.9,640.5 144.2,646.4 144.5,642.4 144.8,642.6 145.1,649.9 145.4,645.2 145.7,640.9 146.1,635.6 146.4,652.0 146.7,644.4 147.0,637.2 147.3,637.2 147.6,628.0 147.9,634.1 148.3,629.2 148.6,640.7 148.9,628.3 149.2,623.3 149.5,628.1 149.8,626.4 150.1,620.7 150.4,625.3 150.8,622.6 151.1,610.2 151.4,610.4 151.7,621.4 152.0,633.8 152.3,614.5 152.6,618.4 153.0,623.7 153.3,631.3 153.6,617.0 153.9,628.5 154.2,628.2 154.5,636.8 154.8,620.2 155.2,629.2 155.5,625.8 155.8,621.4 156.1,623.7 156.4,633.5 156.7,635.3 157.0,628.7 157.3,628.7 157.7,626.2 158.0,621.0 158.3,615.8 158.6,605.8 158.9,610.6 159.2,619.6 159.5,622.8 159.9,617.6 160.2,616.0 160.5,615.3 160.8,608.6 161.1,609.3 161.4,610.1 161.7,610.2 162.1,613.1 162.4,610.4 162.7,594.7 163.0,620.5 163.3,599.8 163.6,595.2 163.9,591.6 164.2,598.6 164.6,599.5 164.9,588.5 165.2,605.0 165.5,598.8 165.8,610.2 166.1,596.5 166.4,596.7 166.8,607.2 167.1,587.3 167.4,594.3 167.7,584.0 168.0,601.3 168.3,588.2 168.6,586.4 169.0,603.9 169.3,595.8 169.6,598.3 169.9,599.0 170.2,595.4 170.5,597.4 170.8,598.1 171.1,591.4 171.5,581.7 171.8,580.3 172.1,602.3 172.4,588.5 172.7,580.4 173.0,596.1 173.3,591.6 173.7,582.1 174.0,580.1 174.3,574.3 174.6,575.8 174.9,585.0 175.2,567.6 175.5,592.8 175.9,583.8 176.2,567.7 176.5,573.5 176.8,587.9 177.1,582.3 177.4,595.2 177.7,592.0 178.0,574.4 178.4,586.2 178.7,584.1 179.0,597.1 179.3,599.2 179.6,590.1 179.9,591.6 180.2,583.3 180.6,604.8 180.9,601.2 181.2,587.7 181.5,596.0 181.8,598.3 182.1,593.7 182.4,600.8 182.7,598.3 183.1,587.6 183.4,596.1 183.7,611.9 184.0,608.8 184.3,596.3 184.6,600.8 184.9,588.2 185.3,596.1 185.6,600.0 185.9,597.2 186.2,603.1 186.5,599.5 186.8,596.4 187.1,600.9 187.5,600.3 187.8,594.4 188.1,593.4 188.4,601.1 188.7,586.6 189.0,593.3 189.3,602.9 189.6,592.8 190.0,598.6 190.3,597.5 190.6,602.2 190.9,597.7 191.2,598.6 191.5,596.7 191.8,612.9 192.2,602.0 192.5,597.7 192.8,594.1 193.1,612.8 193.4,593.9 193.7,594.0 194.0,601.6 194.4,599.0 194.7,599.9 195.0,602.3 195.3,604.5 195.6,598.4 195.9,588.1 196.2,600.0 196.5,608.7 196.9,583.9 197.2,598.5 197.5,590.5 197.8,601.2 198.1,602.8 198.4,587.9 198.7,584.9 199.1,593.3 199.4,596.3 199.7,596.7 200.0,585.9 200.3,586.2 200.6,591.1 200.9,597.4 201.3,599.6 201.6,601.8 201.9,590.3 202.2,597.5 202.5,595.7 202.8,613.0 203.1,593.7 203.4,575.5 203.8,599.6 204.1,581.9 204.4,590.6 204.7,590.0 205.0,607.9 205.3,581.4 205.6,594.8 206.0,605.0 206.3,614.9 206.6,594.1 206.9,595.1 207.2,614.5 207.5,593.7 207.8,603.6 208.2,595.3 208.5,606.0 208.8,598.2 209.1,595.1 209.4,597.8 209.7,600.9 210.0,598.6 210.3,589.6 210.7,604.3 211.0,617.1 211.3,610.3 211.6,602.4 211.9,601.9 212.2,603.0 212.5,602.4 212.9,606.0 213.2,610.9 213.5,616.3 213.8,599.6 214.1,603.1 214.4,603.6 214.7,611.4 215.1,605.3 215.4,603.4 215.7,612.3 216.0,605.4 216.3,610.9 216.6,595.1 216.9,609.1 217.2,604.7 217.6,603.3 217.9,592.6 218.2,606.5 218.5,600.1 218.8,604.1 219.1,604.8 219.4,605.2 219.8,604.5 220.1,609.1 220.4,611.4 220.7,618.1 221.0,612.1 221.3,603.7 221.6,611.3 221.9,615.8 222.3,609.3 222.6,613.1 222.9,603.6 223.2,605.6 223.5,612.5 223.8,613.2 224.1,597.6 224.5,604.5 224.8,610.2 225.1,613.8 225.4,610.2 225.7,603.1 226.0,599.0 226.3,605.1 226.7,607.4 227.0,609.9 227.3,609.8 227.6,594.0 227.9,599.8 228.2,599.0 228.5,591.7 228.8,582.9 229.2,591.8 229.5,587.2 229.8,583.7 230.1,588.2 230.4,591.2 230.7,569.0 231.0,578.0 231.4,584.9 231.7,576.6 232.0,560.8 232.3,560.5 232.6,571.1 232.9,571.4 233.2,548.6 233.6,580.6 233.9,569.8 234.2,564.3 234.5,567.9 234.8,569.8 235.1,576.9 235.4,567.9 235.7,575.9 236.1,568.1 236.4,574.2 236.7,576.3 237.0,577.9 237.3,578.5 237.6,585.7 237.9,578.1 238.3,579.3 238.6,584.3 238.9,578.5 239.2,574.5 239.5,578.7 239.8,588.8 240.1,591.2 240.5,572.5 240.8,581.5 241.1,576.1 241.4,573.0 241.7,575.4 242.0,592.8 242.3,565.9 242.6,586.3 243.0,587.0 243.3,601.6 243.6,598.6 243.9,578.8 244.2,611.2 244.5,577.3 244.8,595.8 245.2,576.7 245.5,591.9 245.8,580.8 246.1,605.2 246.4,595.5 246.7,590.7 247.0,585.4 247.4,597.3 247.7,588.7 248.0,598.1 248.3,595.8 248.6,609.5 248.9,604.9 249.2,597.7 249.5,595.9 249.9,602.5 250.2,610.6 250.5,606.1 250.8,596.6 251.1,599.3 251.4,604.6 251.7,595.7 252.1,607.5 252.4,603.0 252.7,590.9 253.0,590.0 253.3,614.1 253.6,601.4 253.9,599.1 254.3,602.1 254.6,606.6 254.9,603.5 255.2,595.5 255.5,591.6 255.8,604.8 256.1,588.2 256.4,601.2 256.8,585.5 257.1,593.7 257.4,592.4 257.7,584.0 258.0,591.9 258.3,596.3 258.6,587.3 259.0,588.9 259.3,595.9 259.6,597.7 259.9,585.1 260.2,591.3 260.5,591.7 260.8,578.5 261.1,586.5 261.5,590.2 261.8,598.3 262.1,601.5 262.4,592.3 262.7,589.1 263.0,593.2 263.3,611.7 263.7,596.3 264.0,579.5 264.3,589.9 264.6,596.0 264.9,589.3 265.2,613.4 265.5,609.2 265.9,602.5 266.2,595.1 266.5,593.3 266.8,592.2 267.1,588.9 267.4,602.9 267.7,592.7 268.0,604.9 268.4,607.7 268.7,602.4 269.0,601.8 269.3,581.3 269.6,598.6 269.9,589.0 270.2,585.8 270.6,598.9 270.9,581.0 271.2,597.6 271.5,596.6 271.8,598.0 272.1,600.8 272.4,596.3 272.8,593.1 273.1,591.9 273.4,599.0 273.7,590.4 274.0,599.8 274.3,593.4 274.6,583.9 274.9,591.1 275.3,588.3 275.6,599.0 275.9,590.5 276.2,589.4 276.5,591.9 276.8,587.5 277.1,592.3 277.5,585.6 277.8,587.5 278.1,588.3 278.4,593.9 278.7,582.6 279.0,595.6 279.3,587.4 279.7,583.3 280.0,581.4 280.3,587.1 280.6,584.3 280.9,586.5 281.2,595.4 281.5,582.8 281.8,595.2 282.2,599.2 282.5,589.8 282.8,592.5 283.1,587.5 283.4,591.4 283.7,597.8 284.0,595.9 284.4,592.3 284.7,591.9 285.0,591.7 285.3,582.0 285.6,581.2 285.9,585.0 286.2,591.2 286.6,583.2 286.9,587.3 287.2,580.3 287.5,584.0 287.8,583.2 288.1,584.1 288.4,581.1 288.7,576.7 289.1,588.7 289.4,583.7 289.7,581.8 290.0,583.0 290.3,579.8 290.6,572.6 290.9,584.5 291.3,578.9 291.6,575.9 291.9,579.3 292.2,555.2 292.5,575.2 292.8,590.2 293.1,585.0 293.5,575.8 293.8,584.8 294.1,590.6 294.4,573.2 294.7,580.2 295.0,594.0 295.3,585.5 295.6,583.8 296.0,573.7 296.3,582.8 296.6,582.3 296.9,588.2 297.2,585.2 297.5,583.2 297.8,579.4 298.2,588.0 298.5,586.6 298.8,587.4 299.1,596.6 299.4,581.3 299.7,595.4 300.0,584.4 300.3,591.4 300.7,592.3 301.0,589.0 301.3,598.5 301.6,581.3 301.9,593.7 302.2,590.3 302.5,591.6 302.9,572.1 303.2,586.4 303.5,565.5 303.8,569.7 304.1,569.7 304.4,577.1 304.7,563.5 305.1,571.8 305.4,573.6 305.7,568.5 306.0,572.1 306.3,591.3 306.6,574.4 306.9,578.1 307.2,568.3 307.6,574.7 307.9,563.7 308.2,575.2 308.5,557.4 308.8,581.4 309.1,591.9 309.4,577.5 309.8,580.9 310.1,573.8 310.4,590.0 310.7,592.9 311.0,608.1 311.3,574.1 311.6,591.1 312.0,594.3 312.3,592.0 312.6,593.6 312.9,594.9 313.2,581.3 313.5,595.6 313.8,592.0 314.1,594.0 314.5,598.2 314.8,604.7 315.1,609.0 315.4,591.1 315.7,607.1 316.0,611.8 316.3,594.2 316.7,609.9 317.0,596.9 317.3,599.6 317.6,600.8 317.9,589.2 318.2,601.0 318.5,600.6 318.9,608.4 319.2,597.8 319.5,592.6 319.8,594.1 320.1,592.9 320.4,586.6 320.7,595.6 321.0,590.2 321.4,598.2 321.7,594.6 322.0,608.5 322.3,596.1 322.6,600.8 322.9,605.2 323.2,596.6 323.6,592.9 323.9,584.3 324.2,591.1 324.5,606.5 324.8,594.8 325.1,596.2 325.4,596.2 325.8,597.0 326.1,601.8 326.4,583.0 326.7,579.7 327.0,597.6 327.3,591.0 327.6,590.6 327.9,581.6 328.3,595.7 328.6,572.5 328.9,598.9 329.2,604.8 329.5,606.5 329.8,582.7 330.1,595.8 330.5,607.8 330.8,596.0 331.1,590.4 331.4,586.5 331.7,583.8 332.0,599.3 332.3,602.3 332.7,588.3 333.0,588.2 333.3,602.1 333.6,599.9 333.9,625.3 334.2,602.1 334.5,618.6 334.8,594.4 335.2,616.8 335.5,624.8 335.8,613.5 336.1,615.0 336.4,609.5 336.7,614.1 337.0,615.2 337.4,608.5 337.7,604.6 338.0,608.5 338.3,608.0 338.6,610.1 338.9,613.2 339.2,609.8 339.5,611.2 339.9,618.3 340.2,614.9 340.5,621.7 340.8,605.0 341.1,607.8 341.4,611.0 341.7,615.6 342.1,626.2 342.4,627.0 342.7,602.0 343.0,606.4 343.3,610.5 343.6,605.0 343.9,593.0 344.3,600.1 344.6,608.5 344.9,594.5 345.2,599.5 345.5,609.3 345.8,597.3 346.1,601.5 346.4,605.7 346.8,600.4 347.1,596.1 347.4,591.6 347.7,590.9 348.0,593.5 348.3,597.2 348.6,597.5 349.0,600.6 349.3,603.4 349.6,593.7 349.9,591.6 350.2,597.3 350.5,590.5 350.8,596.1 351.2,591.2 351.5,598.9 351.8,596.9 352.1,602.8 352.4,588.0 352.7,584.8 353.0,589.4 353.3,593.5 353.7,595.0 354.0,586.6 354.3,594.7 354.6,609.3 354.9,589.4 355.2,593.8 355.5,603.1 355.9,571.1 356.2,588.1 356.5,585.4 356.8,591.5 357.1,583.5 357.4,582.7 357.7,595.4 358.1,590.8 358.4,577.9 358.7,581.1 359.0,598.5 359.3,580.6 359.6,582.2 359.9,578.5 360.2,584.7 360.6,568.0 360.9,584.2 361.2,577.9 361.5,581.1 361.8,582.5 362.1,574.6 362.4,574.9 362.8,567.0 363.1,569.0 363.4,576.9 363.7,587.8 364.0,569.5 364.3,575.1 364.6,568.3 365.0,585.4 365.3,571.7 365.6,580.8 365.9,572.5 366.2,574.3 366.5,566.4 366.8,570.8 367.1,568.5 367.5,579.5 367.8,572.6 368.1,573.5 368.4,574.0 368.7,573.2 369.0,572.8 369.3,573.5 369.7,572.2 370.0,572.2 370.3,573.6 370.6,579.8 370.9,582.6 371.2,577.8 371.5,570.2 371.9,578.9 372.2,575.1 372.5,577.4 372.8,589.1 373.1,578.8 373.4,585.8 373.7,586.3 374.0,590.4 374.4,592.9 374.7,571.2 375.0,590.1 375.3,576.1 375.6,595.9 375.9,593.7 376.2,570.4 376.6,574.7 376.9,595.6 377.2,593.2 377.5,589.4 377.8,592.6 378.1,568.7 378.4,585.8 378.7,580.0 379.1,594.2 379.4,593.7 379.7,594.3 380.0,601.7 380.3,583.0 380.6,598.3 380.9,594.1 381.3,602.8 381.6,606.6 381.9,597.2 382.2,595.8 382.5,594.4 382.8,603.0 383.1,605.6 383.5,599.7 383.8,603.3 384.1,599.7 384.4,601.0 384.7,604.1 385.0,601.9 385.3,607.6 385.6,597.4 386.0,600.3 386.3,606.7 386.6,606.3 386.9,602.1 387.2,602.1 387.5,600.8 387.8,608.0 388.2,606.6 388.5,605.9 388.8,603.4 389.1,604.9 389.4,608.6 389.7,607.6 390.0,605.0 390.4,599.4 390.7,606.1 391.0,600.1 391.3,596.4 391.6,603.4 391.9,606.9 392.2,599.6 392.5,602.8 392.9,597.1 393.2,592.6 393.5,604.5 393.8,589.6 394.1,599.3 394.4,607.1 394.7,595.7 395.1,604.3 395.4,598.2 395.7,607.0 396.0,594.0 396.3,600.7 396.6,590.0 396.9,604.2 397.3,587.8 397.6,602.6 397.9,586.4 398.2,584.6 398.5,595.8 398.8,578.8 399.1,593.7 399.4,591.4 399.8,575.5 400.1,568.9 400.4,566.4 400.7,583.2 401.0,579.5 401.3,594.5 401.6,581.9 402.0,596.2 402.3,590.0 402.6,587.6 402.9,567.4 403.2,575.4 403.5,567.1 403.8,589.3 404.2,572.5 404.5,568.7 404.8,571.0 405.1,584.1 405.4,568.2 405.7,565.6 406.0,568.2 406.3,571.4 406.7,568.7 407.0,568.1 407.3,576.7 407.6,557.4 407.9,562.2 408.2,571.9 408.5,568.8 408.9,568.7 409.2,567.1 409.5,570.2 409.8,563.4 410.1,577.3 410.4,568.9 410.7,575.9 411.1,578.3 411.4,569.7 411.7,577.0 412.0,572.3 412.3,566.2 412.6,570.5 412.9,574.0 413.2,571.0 413.6,577.8 413.9,582.0 414.2,573.6 414.5,563.4"/>
<polyline stroke="#f00" points="100.9,675.0 101.2,673.8 101.5,672.6 101.8,690.8 102.2,670.5 102.5,674.3 102.8,666.7 103.1,669.5 103.4,690.8 103.7,694.9 104.0,679.8 104.3,657.0 104.7,680.2 105.0,654.3 105.3,667.5 105.6,693.0 105.9,667.4 106.2,673.9 106.5,660.2 106.9,670.5 107.2,676.3 107.5,673.0 107.8,660.0 108.1,664.3 108.4,662.0 108.7,657.9 109.1,663.4 109.4,656.0 109.7,671.3 110.0,665.9 110.3,644.4 110.6,668.1 110.9,638.2 111.2,672.9 111.6,650.9 111.9,645.7 112.2,663.9 112.5,660.0 112.8,657.6 113.1,649.1 113.4,672.3 113.8,665.2 114.1,647.4 114.4,672.8 114.7,659.0 115.0,656.1 115.3,657.9 115.6,670.8 116.0,685.8 116.3,666.1 116.6,675.9 116.9,685.2 117.2,643.5 117.5,660.5 117.8,667.6 118.1,654.5 118.5,659.2 118.8,659.7 119.1,649.8 119.4,659.3 119.7,660.3 120.0,656.3 120.3,661.0 120.7,673.4 121.0,658.2 121.3,636.3 121.6,651.9 121.9,661.2 122.2,652.9 122.5,660.8 122.9,667.6 123.2,658.9 123.5,654.8 123.8,662.1 124.1,663.9 124.4,656.5 124.7,656.2 125.0,651.3 125.4,657.1 125.7,666.1 126.0,650.5 126.3,667.2 126.6,647.9 126.9,656.5 127.2,659.0 127.6,658.6 127.9,648.8 128.2,657.3 128.5,661.3 128.8,644.8 129.1,647.9 129.4,640.6 129.8,640.4 130.1,636.3 130.4,640.6 130.7,652.7 131.0,641.1 131.3,649.2 131.6,656.8 131.9,662.6 132.3,660.2 132.6,657.7 132.9,644.6 133.2,622.2 133.5,640.3 133.8,641.4 134.1,656.2 134.5,649.0 134.8,637.9 135.1,630.4 135.4,642.8 135.7,631.3 136.0,639.3 136.3,638.0 136.7,628.7 137.0,640.8 137.3,635.7 137.6,654.9 137.9,648.0 138.2,633.6 138.5,640.2 138.8,622.4 139.2,618.8 139.5,638.7 139.8,629.1 140.1,630.0 140.4,630.4 140.7,630.3 141.0,646.4 141.4,628.4 141.7,627.7 142.0,641.2 142.3,639.2 142.6,627.9 142.9,628.4 143.2,632.4 143.5,621.7 143.9,630.1 144.2,620.5 144.5,627.0 144.8,635.3 145.1,634.6 145.4,627.3 145.7,634.3 146.1,616.1 146.4,613.7 146.7,630.9 147.0,628.0 147.3,626.9 147.6,614.1 147.9,629.3 148.3,628.6 148.6,632.2 148.9,636.6 149.2,620.0 149.5,625.0 149.8,621.9 150.1,608.2 150.4,618.2 150.8,613.9 151.1,624.8 151.4,619.7 151.7,624.0 152.0,617.6 152.3,632.7 152.6,627.6 153.0,622.4 153.3,637.7 153.6,646.7 153.9,622.3 154.2,630.3 154.5,616.7 154.8,634.2 155.2,617.0 155.5,632.8 155.8,625.7 156.1,617.7 156.4,612.0 156.7,621.2 157.0,612.3 157.3,627.3 157.7,610.2 158.0,621.4 158.3,617.9 158.6,619.2 158.9,627.9 159.2,613.7 159.5,622.4 159.9,604.2 160.2,623.3 160.5,609.8 160.8,615.7 161.1,622.4 161.4,618.2 161.7,605.6 162.1,590.4 162.4,607.7 162.7,612.0 163.0,597.3 163.3,604.9 163.6,600.0 163.9,602.6 164.2,611.6 164.6,583.6 164.9,587.4 165.2,603.0 165.5,583.9 165.8,607.6 166.1,595.8 166.4,586.7 166.8,602.5 167.1,597.4 167.4,589.3 167.7,606.5 168.0,603.6 168.3,596.7 168.6,596.2 169.0,597.0 169.3,607.2 169.6,583.8 169.9,611.7 170.2,619.8 170.5,603.9 170.8,610.3 171.1,606.7 171.5,606.5 171.8,615.8 172.1,610.7 172.4,601.7 172.7,590.2 173.0,599.6 173.3,591.3 173.7,607.5 174.0,575.0 174.3,587.7 174.6,620.9 174.9,601.5 175.2,581.5 175.5,594.5 175.9,589.1 176.2,608.8 176.5,588.7 176.8,594.7 177.1,600.7 177.4,591.8 177.7,564.9 178.0,574.0 178.4,573.6 178.7,558.0 179.0,574.3 179.3,615.9 179.6,566.9 179.9,582.4 180.2,577.2 180.6,576.7 180.9,572.8 181.2,575.6 181.5,582.3 181.8,573.6 182.1,575.1 182.4,575.3 182.7,565.8 183.1,573.1 183.4,571.1 183.7,576.1 184.0,576.8 184.3,562.5 184.6,581.5 184.9,569.9 185.3,571.7 185.6,574.8 185.9,577.9 186.2,568.5 186.5,583.2 186.8,578.1 187.1,577.0 187.5,577.8 187.8,579.8 188.1,573.7 188.4,569.0 188.7,579.4 189.0,573.3 189.3,572.3 189.6,575.5 190.0,572.5 190.3,575.9 190.6,571.6 190.9,567.8 191.2,575.3 191.5,573.0 191.8,559.9 192.2,582.6 192.5,585.5 192.8,571.5 193.1,568.1 193.4,590.5 193.7,580.8 194.0,566.0 194.4,573.5 194.7,564.5 195.0,558.0 195.3,577.4 195.6,567.7 195.9,577.0 196.2,566.4 196.5,581.4 196.9,572.3 197.2,575.6 197.5,575.5 197.8,569.1 198.1,568.5 198.4,562.6 198.7,569.4 199.1,570.6 199.4,566.3 199.7,569.2 200.0,563.8 200.3,575.7 200.6,565.2 200.9,567.2 201.3,565.3 201.6,570.9 201.9,561.9 202.2,566.4 202.5,568.2 202.8,573.9 203.1,568.7 203.4,578.1 203.8,570.6 204.1,574.4 204.4,576.4 204.7,564.4 205.0,573.0 205.3,570.8 205.6,557.9 206.0,580.6 206.3,576.2 206.6,571.5 206.9,596.1 207.2,573.5 207.5,570.5 207.8,573.4 208.2,571.6 208.5,564.6 208.8,595.0 209.1,561.3 209.4,579.9 209.7,569.9 210.0,569.0 210.3,582.8 210.7,591.2 211.0,575.7 211.3,595.1 211.6,586.3 211.9,568.5 212.2,577.4 212.5,580.7 212.9,579.1 213.2,582.4 213.5,591.2 213.8,582.6 214.1,568.1 214.4,575.1 214.7,575.9 215.1,578.2 215.4,573.8 215.7,567.6 216.0,582.0 216.3,578.9 216.6,595.6 216.9,574.3 217.2,571.5 217.6,570.1 217.9,587.5 218.2,578.6 218.5,582.8 218.8,595.0 219.1,579.2 219.4,578.7 219.8,593.6 220.1,579.9 220.4,576.1 220.7,572.6 221.0,585.1 221.3,585.4 221.6,567.4 221.9,578.7 222.3,600.1 222.6,586.5 222.9,591.5 223.2,585.3 223.5,584.9 223.8,601.9 224.1,583.0 224.5,589.7 224.8,567.9 225.1,589.2 225.4,585.3 225.7,582.4 226.0,595.9 226.3,590.7 226.7,591.4 227.0,589.8 227.3,577.8 227.6,586.4 227.9,592.7 228.2,583.5 228.5,586.6 228.8,585.0 229.2,579.2 229.5,581.7 229.8,583.8 230.1,576.2 230.4,570.3 230.7,583.7 231.0,581.9 231.4,573.7 231.7,585.0 232.0,575.2 232.3,563.1 232.6,586.6 232.9,572.7 233.2,576.3 233.6,581.7 233.9,579.9 234.2,582.5 234.5,576.2 234.8,579.0 235.1,569.0 235.4,573.1 235.7,586.3 236.1,577.5 236.4,566.6 236.7,576.2 237.0,580.9 237.3,578.9 237.6,575.5 237.9,580.9 238.3,577.6 238.6,586.5 238.9,580.4 239.2,591.3 239.5,580.2 239.8,588.5 240.1,579.3 240.5,587.1 240.8,594.1 241.1,583.4 241.4,578.9 241.7,583.8 242.0,580.4 242.3,583.3 242.6,582.5 243.0,592.9 243.3,582.1 243.6,595.0 243.9,595.5 244.2,585.3 244.5,596.5 244.8,593.0 245.2,591.6 245.5,592.6 245.8,581.1 246.1,594.1 246.4,576.5 246.7,602.7 247.0,588.0 247.4,579.7 247.7,581.2 248.0,571.9 248.3,575.3 248.6,588.8 248.9,585.9 249.2,576.1 249.5,585.9 249.9,578.4 250.2,572.9 250.5,569.5 250.8,571.1 251.1,577.9 251.4,575.4 251.7,594.4 252.1,589.4 252.4,563.9 252.7,575.6 253.0,559.7 253.3,585.4 253.6,593.5 253.9,585.7 254.3,581.8 254.6,572.9 254.9,573.0 255.2,579.1 255.5,572.6 255.8,574.1 256.1,566.2 256.4,575.5 256.8,574.3 257.1,580.5 257.4,567.6 257.7,575.9 258.0,560.7 258.3,580.3 258.6,568.9 259.0,564.1 259.3,575.5 259.6,558.9 259.9,579.1 260.2,576.1 260.5,574.6 260.8,564.7 261.1,574.9 261.5,576.6 261.8,577.8 262.1,580.1 262.4,559.9 262.7,574.4 263.0,579.7 263.3,571.9 263.7,564.3 264.0,570.9 264.3,568.2 264.6,586.0 264.9,565.2 265.2,570.7 265.5,565.2 265.9,555.7 266.2,570.9 266.5,574.5 266.8,573.8 267.1,566.2 267.4,569.4 267.7,577.6 268.0,570.4 268.4,580.8 268.7,577.3 269.0,564.9 269.3,568.8 269.6,575.1 269.9,579.2 270.2,578.2 270.6,589.0 270.9,584.3 271.2,594.5 271.5,578.0 271.8,587.7 272.1,598.2 272.4,589.3 272.8,584.1 273.1,570.2 273.4,583.0 273.7,582.3 274.0,587.2 274.3,586.0 274.6,588.6 274.9,587.8 275.3,577.6 275.6,575.7 275.9,582.2 276.2,575.9 276.5,584.1 276.8,585.6 277.1,573.9 277.5,564.0 277.8,592.0 278.1,583.5 278.4,581.6 278.7,584.8 279.0,582.2 279.3,583.7 279.7,576.8 280.0,574.3 280.3,580.1 280.6,577.7 280.9,585.3 281.2,584.1 281.5,576.6 281.8,576.5 282.2,573.0 282.5,584.9 282.8,588.7 283.1,590.0 283.4,579.5 283.7,573.4 284.0,582.4 284.4,592.3 284.7,584.1 285.0,569.6 285.3,580.5 285.6,586.0 285.9,562.2 286.2,580.9 286.6,577.7 286.9,577.1 287.2,581.0 287.5,583.6 287.8,589.7 288.1,569.0 288.4,586.3 288.7,575.6 289.1,576.9 289.4,572.9 289.7,570.1 290.0,575.8 290.3,563.4 290.6,586.7 290.9,582.6 291.3,586.3 291.6,585.1 291.9,565.9 292.2,588.9 292.5,558.6 292.8,590.7 293.1,567.8 293.5,584.2 293.8,579.0 294.1,585.8 294.4,581.7 294.7,568.3 295.0,576.3 295.3,575.0 295.6,566.6 296.0,584.1 296.3,581.7 296.6,588.1 296.9,561.6 297.2,563.8 297.5,566.4 297.8,578.7 298.2,577.4 298.5,572.4 298.8,569.1 299.1,564.1 299.4,552.3 299.7,572.8 300.0,562.9 300.3,572.7 300.7,564.0 301.0,567.2 301.3,568.3 301.6,569.3 301.9,557.1 302.2,563.8 302.5,552.6 302.9,565.9 303.2,568.9 303.5,563.4 303.8,568.5 304.1,592.6 304.4,577.7 304.7,556.0 305.1,583.1 305.4,580.4 305.7,566.4 306.0,576.5 306.3,579.6 306.6,547.2 306.9,576.7 307.2,557.8 307.6,576.1 307.9,576.5 308.2,574.8 308.5,575.6 308.8,567.6 309.1,555.6 309.4,577.5 309.8,582.9 310.1,569.8 310.4,590.6 310.7,583.3 311.0,569.8 311.3,570.0 311.6,582.2 312.0,574.5 312.3,590.8 312.6,588.3 312.9,596.8 313.2,575.4 313.5,590.8 313.8,580.3 314.1,580.7 314.5,582.7 314.8,584.5 315.1,580.7 315.4,571.2 315.7,573.3 316.0,575.4 316.3,577.0 316.7,567.2 317.0,568.2 317.3,562.0 317.6,555.8 317.9,582.6 318.2,572.6 318.5,555.1 318.9,581.6 319.2,566.5 319.5,570.9 319.8,570.7 320.1,592.7 320.4,580.3 320.7,566.2 321.0,580.2 321.4,561.4 321.7,569.8 322.0,584.5 322.3,577.6 322.6,575.2 322.9,572.2 323.2,560.0 323.6,590.9 323.9,584.8 324.2,577.0 324.5,576.7 324.8,594.9 325.1,585.0 325.4,568.3 325.8,573.5 326.1,605.2 326.4,599.9 326.7,572.5 327.0,588.1 327.3,585.7 327.6,590.3 327.9,588.2 328.3,591.6 328.6,598.2 328.9,582.6 329.2,600.8 329.5,586.3 329.8,574.7 330.1,578.9 330.5,576.6 330.8,588.7 331.1,578.8 331.4,578.4 331.7,582.7 332.0,588.4 332.3,586.9 332.7,577.8 333.0,574.5 333.3,593.1 333.6,583.1 333.9,588.0 334.2,580.3 334.5,581.8 334.8,588.6 335.2,581.4 335.5,582.8 335.8,588.2 336.1,575.8 336.4,591.1 336.7,583.6 337.0,596.9 337.4,595.1 337.7,595.9 338.0,596.7 338.3,586.7 338.6,584.8 338.9,603.5 339.2,594.1 339.5,607.9 339.9,611.1 340.2,585.7 340.5,608.6 340.8,603.1 341.1,599.5 341.4,584.5 341.7,590.7 342.1,600.7 342.4,574.6 342.7,589.8 343.0,588.6 343.3,597.3 343.6,588.8 343.9,588.5 344.3,590.3 344.6,589.0 344.9,594.6 345.2,582.1 345.5,593.9 345.8,580.6 346.1,576.3 346.4,595.9 346.8,591.7 347.1,591.8 347.4,582.2 347.7,590.1 348.0,603.9 348.3,592.2 348.6,590.8 349.0,587.7 349.3,582.9 349.6,579.4 349.9,590.5 350.2,574.8 350.5,586.3 350.8,581.9 351.2,586.8 351.5,583.2 351.8,585.7 352.1,572.5 352.4,562.7 352.7,602.3 353.0,580.4 353.3,591.6 353.7,599.2 354.0,594.6 354.3,588.8 354.6,570.3 354.9,593.1 355.2,597.8 355.5,603.0 355.9,582.0 356.2,600.5 356.5,592.8 356.8,589.6 357.1,582.2 357.4,585.9 357.7,586.9 358.1,590.0 358.4,599.5 358.7,584.2 359.0,583.5 359.3,588.0 359.6,589.7 359.9,607.5 360.2,603.5 360.6,588.0 360.9,580.6 361.2,594.6 361.5,581.4 361.8,588.9 362.1,599.7 362.4,589.4 362.8,614.0 363.1,592.8 363.4,591.8 363.7,594.1 364.0,583.2 364.3,593.3 364.6,596.5 365.0,586.3 365.3,593.6 365.6,587.8 365.9,581.6 366.2,592.1 366.5,574.7 366.8,582.9 367.1,601.2 367.5,593.0 367.8,575.6 368.1,584.2 368.4,581.6 368.7,586.7 369.0,606.4 369.3,592.7 369.7,566.9 370.0,606.0 370.3,583.6 370.6,571.0 370.9,582.4 371.2,573.6 371.5,603.2 371.9,601.7 372.2,598.5 372.5,595.5 372.8,597.6 373.1,593.7 373.4,598.3 373.7,588.1 374.0,604.4 374.4,586.6 374.7,587.9 375.0,590.2 375.3,594.5 375.6,595.1 375.9,585.1 376.2,580.2 376.6,581.9 376.9,611.0 377.2,597.5 377.5,586.3 377.8,606.8 378.1,588.1 378.4,602.6 378.7,606.5 379.1,598.7 379.4,620.6 379.7,573.2 380.0,574.5 380.3,607.8 380.6,599.1 380.9,616.1 381.3,603.4 381.6,602.6 381.9,593.1 382.2,593.7 382.5,620.9 382.8,583.9 383.1,590.5 383.5,590.7 383.8,591.6 384.1,585.0 384.4,594.0 384.7,587.7 385.0,587.4 385.3,592.4 385.6,591.7 386.0,591.1 386.3,590.5 386.6,578.6 386.9,583.8 387.2,592.6 387.5,585.5 387.8,583.4 388.2,574.9 388.5,583.6 388.8,595.6 389.1,588.4 389.4,587.3 389.7,593.1 390.0,587.8 390.4,586.1 390.7,589.1 391.0,579.0 391.3,583.0 391.6,588.6 391.9,581.9 392.2,588.6 392.5,588.5 392.9,565.9 393.2,578.7 393.5,577.8 393.8,564.7 394.1,594.7 394.4,583.5 394.7,568.3 395.1,572.1 395.4,584.3 395.7,575.8 396.0,583.1 396.3,589.3 396.6,597.8 396.9,580.8 397.3,569.1 397.6,587.4 397.9,588.8 398.2,580.9 398.5,590.8 398.8,603.0 399.1,592.2 399.4,595.5 399.8,602.6 400.1,600.0 400.4,588.5 400.7,591.1 401.0,584.4 401.3,593.9 401.6,604.3 402.0,590.1 402.3,575.2 402.6,586.2 402.9,589.1 403.2,579.9 403.5,586.0 403.8,604.5 404.2,585.6 404.5,591.4 404.8,601.1 405.1,592.0 405.4,581.9 405.7,588.4 406.0,599.8 406.3,588.5 406.7,587.2 407.0,594.4 407.3,594.6 407.6,593.7 407.9,594.1 408.2,595.6 408.5,596.4 408.9,604.7 409.2,594.8 409.5,605.6 409.8,597.6 410.1,599.5 410.4,611.0 410.7,597.2 411.1,603.7 411.4,609.2 411.7,619.8 412.0,602.7 412.3,584.2 412.6,593.8 412.9,593.3 413.2,611.5 413.6,607.1 413.9,595.3 414.2,602.3 414.5,602.0"/>
</g>
<rect x="100.9" y="510.5" width="313.6" height="203.1" fill="none" stroke="#000" stroke-width="1.4"/>
<path d="M140.1 713.6v-3.2M140.1 510.5v3.2M179.3 713.6v-5M179.3 510.5v5M218.5 713.6v-3.2M218.5 510.5v3.2M257.7 713.6v-5M257.7 510.5v5M296.9 713.6v-3.2M296.9 510.5v3.2M336.1 713.6v-5M336.1 510.5v5M375.3 713.6v-3.2M375.3 510.5v3.2M100.9 700.9h3.2M414.5 700.9h-3.2M100.9 688.2h5M414.5 688.2h-5M100.9 675.5h3.2M414.5 675.5h-3.2M100.9 662.8h5M414.5 662.8h-5M100.9 650.1h3.2M414.5 650.1h-3.2M100.9 637.4h5M414.5 637.4h-5M100.9 624.7h3.2M414.5 624.7h-3.2M100.9 612.0h5M414.5 612.0h-5M100.9 599.4h3.2M414.5 599.4h-3.2M100.9 586.7h5M414.5 586.7h-5M100.9 574.0h3.2M414.5 574.0h-3.2M100.9 561.3h5M414.5 561.3h-5M100.9 548.6h3.2M414.5 548.6h-3.2M100.9 535.9h5M414.5 535.9h-5M100.9 523.2h3.2M414.5 523.2h-3.2" stroke="#000" stroke-width="1.4" fill="none"/>
<text transform="translate(95.5 694.5) scale(1 1.06)" font-size="24.5" text-anchor="end">10</text>
<text transform="translate(95.5 669.1) scale(1 1.06)" font-size="24.5" text-anchor="end">20</text>
<text transform="translate(95.5 643.7) scale(1 1.06)" font-size="24.5" text-anchor="end">30</text>
<text transform="translate(95.5 618.3) scale(1 1.06)" font-size="24.5" text-anchor="end">40</text>
<text transform="translate(95.5 593.0) scale(1 1.06)" font-size="24.5" text-anchor="end">50</text>
<text transform="translate(95.5 567.6) scale(1 1.06)" font-size="24.5" text-anchor="end">60</text>
<text transform="translate(95.5 542.2) scale(1 1.06)" font-size="24.5" text-anchor="end">70</text>
<text transform="translate(95.5 516.8) scale(1 1.06)" font-size="24.5" text-anchor="end">80</text>
<text transform="translate(100.9 738.8) scale(1 1.06)" font-size="24.5" text-anchor="middle">0</text>
<text transform="translate(179.3 738.8) scale(1 1.06)" font-size="24.5" text-anchor="middle">5</text>
<text transform="translate(257.7 738.8) scale(1 1.06)" font-size="24.5" text-anchor="middle">10</text>
<text transform="translate(336.1 738.8) scale(1 1.06)" font-size="24.5" text-anchor="middle">15</text>
<text transform="translate(414.5 738.8) scale(1 1.06)" font-size="24.5" text-anchor="middle">20</text>
<line x1="223.8" x2="290.1" y1="654.7" y2="654.7" stroke="#000" stroke-width="1.6"/>
<text transform="translate(296.2 663.1) scale(1 1.06)" font-size="24.5" fill="#000">CN</text>
<line x1="223.8" x2="290.1" y1="685.5" y2="685.5" stroke="#f00" stroke-width="1.6"/>
<text transform="translate(296.2 694.7) scale(1 1.06)" font-size="24.5" fill="#f00">CN-M35O</text>
<text transform="translate(257.2 781.5) scale(1 1.04)" font-size="24.5" text-anchor="middle">Simulation Time (ns)</text>
<text transform="translate(20.3 352.5) rotate(-90) scale(1 1.03)" x="0" y="0" font-size="25.7" text-anchor="middle">Number of Waters inside Hydrophobic Cavity</text>
</svg></body></html>
